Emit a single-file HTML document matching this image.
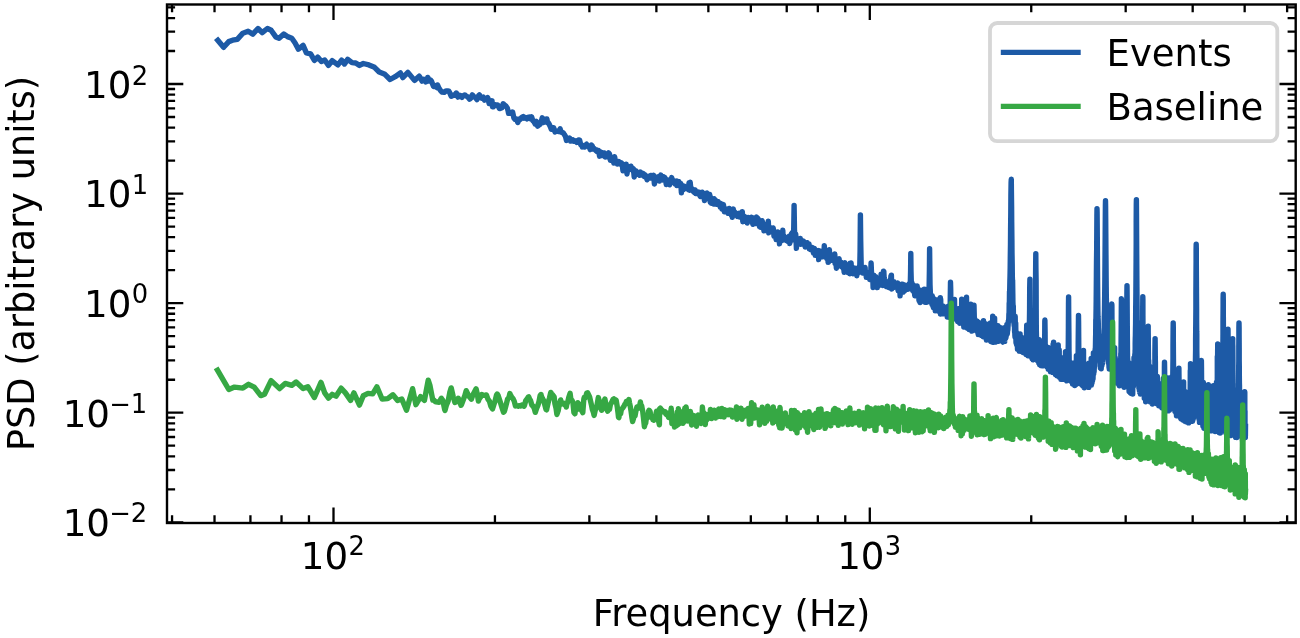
<!DOCTYPE html>
<html><head><meta charset="utf-8"><style>
html,body{margin:0;padding:0;background:#fff;}
svg{display:block;}
text{font-family:'DejaVu Sans', 'Liberation Sans', sans-serif;fill:#000;}
</style></head><body>
<svg width="1300" height="638" viewBox="0 0 1300 638">
<rect width="1300" height="638" fill="#fff"/>
<defs><clipPath id="ax"><rect x="167.0" y="4.5" width="1128.7" height="518.5"/></clipPath></defs>
<g clip-path="url(#ax)" fill="none" stroke-linejoin="round" stroke-linecap="square" stroke-width="5.4">
<path stroke="#1d5aa6" d="M217.8 40.3L223.6 47.3 228.8 41.6 232.6 40.2 237.3 39.3 242.9 33.2 248.1 31.3 252.8 34.1 258.0 28.5 262.2 32.7 267.4 28.5 271.1 30.3 275.8 36.9 279.1 38.3 283.8 34.1 288.1 36.9 291.8 38.3 295.1 43.0 298.4 49.2 303.1 45.4 306.4 52.9 310.6 53.9 314.4 60.4 317.7 57.1 321.4 61.4 324.7 60.0 328.5 65.4 332.2 60.7 337.9 64.9 341.6 60.2 344.5 64.0 347.7 59.3 352.0 62.6 355.7 63.0 359.5 65.4 363.3 63.5 368.9 64.9 374.5 67.3 379.2 72.0 384.9 74.3 390.1 79.5 395.2 76.7 400.4 72.9 402.8 77.6 407.9 72.4 414.5 80.4 419.2 76.2 420.0 77.3 422.0 81.1 423.0 80.4 423.9 79.3 425.8 81.9 426.7 81.4 427.7 77.4 429.6 80.9 430.5 80.0 431.5 81.2 433.3 85.9 433.8 86.5 435.2 85.8 437.0 87.6 437.5 85.0 438.8 87.8 440.6 90.7 442.2 92.1 444.2 92.4 446.0 90.9 447.7 91.0 448.8 91.2 449.4 92.0 451.2 96.3 452.9 95.3 454.6 95.2 456.3 93.0 457.9 97.1 459.6 95.3 461.2 95.9 462.0 97.3 462.9 95.9 464.8 94.9 466.1 96.0 467.7 96.9 469.5 99.2 470.9 97.9 472.3 94.9 474.0 96.8 475.6 97.8 477.0 99.6 478.6 95.7 479.4 94.9 480.2 96.6 481.7 98.3 483.2 97.2 484.5 100.1 486.1 98.9 487.6 97.5 488.3 99.2 489.1 103.5 490.5 103.1 492.0 100.8 492.5 106.7 493.4 106.8 494.8 104.6 495.8 104.8 496.3 105.0 497.7 104.9 499.1 107.9 499.6 108.6 500.5 108.4 501.8 107.8 503.2 103.7 504.8 105.3 505.9 106.0 507.3 108.0 508.1 110.9 508.6 113.4 510.0 113.2 511.3 113.2 511.8 113.3 512.6 112.0 513.9 118.0 515.1 119.4 516.5 119.1 517.8 122.4 519.3 118.9 520.4 119.2 521.7 117.3 523.1 116.6 524.2 118.2 525.4 117.5 526.9 118.9 527.9 117.4 529.2 117.0 530.4 118.6 531.6 116.9 532.8 120.6 533.5 121.3 534.0 121.5 535.2 124.0 536.4 121.4 537.6 126.2 539.1 125.0 539.9 124.5 541.1 122.2 542.3 117.8 542.9 121.3 543.4 122.4 544.6 122.0 545.7 119.1 546.9 118.9 547.6 122.7 548.0 122.3 549.1 124.0 550.3 126.6 551.3 129.2 552.5 127.8 553.6 127.7 555.0 132.0 555.8 131.3 556.9 131.4 558.0 130.9 558.8 131.5 560.1 128.8 561.2 132.3 562.3 132.3 563.3 132.8 564.5 134.8 565.4 136.2 566.5 140.5 567.3 139.5 568.6 139.3 569.6 138.1 570.6 141.1 572.0 140.0 572.7 139.8 573.7 141.3 574.7 141.3 575.7 140.8 576.7 142.4 577.6 141.9 578.7 140.0 579.7 140.2 580.7 144.8 581.7 144.9 582.3 147.0 582.7 145.7 583.6 146.9 584.6 147.1 585.6 145.1 586.6 144.2 587.5 145.5 588.4 146.7 589.4 147.5 590.3 149.6 590.8 146.1 591.3 145.0 592.2 145.9 593.1 148.9 594.1 148.5 595.0 149.6 595.9 150.5 596.4 149.8 596.8 151.5 597.8 151.2 598.7 150.7 599.6 156.2 600.5 151.9 601.1 153.1 601.5 153.4 602.4 152.9 603.3 155.6 604.2 152.9 605.1 157.0 606.0 156.9 606.8 156.6 607.7 154.9 608.6 152.9 609.5 154.0 610.3 160.2 611.2 159.3 612.1 159.8 612.9 158.0 613.8 163.1 614.6 156.7 615.5 161.6 616.3 161.9 617.2 164.0 618.0 163.9 618.8 161.6 619.7 162.4 620.5 164.1 621.3 162.8 622.1 163.7 623.0 170.9 623.8 165.8 624.6 169.3 625.4 170.7 626.2 164.2 627.0 174.0 627.8 168.2 628.6 166.6 629.4 167.7 630.2 169.2 631.0 166.2 631.8 168.8 632.6 170.4 633.4 168.6 634.2 177.1 635.0 172.5 635.7 170.8 636.5 171.8 637.3 173.8 638.1 174.4 638.8 173.6 639.6 175.3 640.4 172.1 641.1 173.0 641.9 172.9 642.6 175.1 643.4 173.6 644.1 176.4 644.9 174.6 645.6 177.2 646.4 177.3 647.1 179.8 647.8 176.4 648.6 177.7 649.3 176.3 650.0 178.0 650.8 175.4 651.5 175.9 652.2 178.1 653.0 176.4 653.7 175.4 654.4 184.0 655.1 179.5 655.8 179.4 656.5 179.5 657.2 177.3 657.9 176.9 658.7 176.7 659.4 181.0 660.1 178.1 660.8 175.1 661.5 177.1 662.1 178.3 662.8 179.9 663.5 176.7 664.2 179.6 664.9 177.6 665.6 180.4 666.3 184.6 667.0 182.0 667.6 179.9 668.3 182.2 669.0 182.3 669.7 184.8 670.3 179.8 671.0 180.7 671.7 177.6 672.3 180.0 673.0 180.1 673.6 182.5 674.3 182.4 675.0 183.9 675.6 182.5 676.3 181.0 676.9 185.6 677.6 182.5 678.2 181.5 678.9 181.7 679.5 185.1 680.2 185.6 680.8 183.6 681.4 192.9 682.1 185.7 682.7 186.3 683.3 189.7 684.0 186.1 684.6 186.5 685.2 188.5 685.9 187.5 686.5 186.8 687.1 187.3 687.7 186.7 688.4 189.7 689.0 183.0 689.6 190.2 690.2 182.3 690.8 188.8 691.4 189.9 692.0 188.7 692.6 189.6 693.3 191.4 693.9 189.9 694.5 192.6 695.1 189.9 695.7 193.5 696.3 191.8 696.9 193.3 697.5 191.8 698.1 193.6 698.7 192.1 699.2 192.1 699.8 195.5 700.4 196.4 701.0 195.8 701.6 194.4 702.2 192.2 702.8 195.8 703.3 195.8 703.9 196.6 704.5 200.6 705.1 195.7 705.7 197.8 706.2 193.5 706.8 193.1 707.4 198.6 708.0 196.2 708.5 197.3 709.1 198.5 709.7 194.5 710.2 202.2 710.8 197.5 711.3 203.3 711.9 202.2 712.5 202.2 713.0 203.0 713.6 203.8 714.1 198.7 714.7 199.4 715.2 204.1 715.8 200.5 716.3 202.6 716.9 204.2 717.4 203.4 718.0 201.6 718.5 202.2 719.1 203.9 719.6 203.9 720.2 207.1 720.7 203.4 721.2 206.3 721.8 209.0 722.3 205.1 722.8 207.2 723.4 204.6 723.9 208.6 724.4 211.8 725.0 209.1 725.5 210.4 726.0 209.5 726.6 209.2 727.1 209.4 727.6 211.8 728.1 213.3 728.6 212.0 729.2 208.4 729.7 210.1 730.2 212.0 730.7 210.0 731.2 215.0 731.8 213.6 732.3 217.3 732.8 210.5 733.3 209.0 733.8 212.8 734.3 213.4 734.8 212.1 735.3 212.6 735.8 213.4 736.3 214.5 736.8 215.4 737.3 216.4 737.8 215.8 738.3 214.0 738.8 215.5 739.3 213.2 739.8 217.1 740.3 217.0 740.8 216.4 741.3 217.2 741.8 217.4 742.3 211.7 742.8 221.7 743.3 217.3 743.8 216.0 744.3 219.5 744.8 216.6 745.2 221.2 745.7 218.9 746.2 219.9 746.7 218.4 747.2 223.0 747.7 221.0 748.1 217.5 748.6 218.9 749.1 219.6 749.6 220.6 750.0 219.4 750.5 219.1 751.0 217.5 751.5 218.4 751.9 217.4 752.4 222.3 752.9 224.3 753.4 222.1 753.8 220.0 754.3 219.4 754.8 217.9 755.2 218.0 755.7 223.6 756.1 219.0 756.6 217.1 757.1 218.8 757.5 221.5 758.0 218.5 758.5 221.5 758.9 221.3 759.4 226.6 759.8 225.3 760.3 221.1 760.7 227.2 761.2 221.4 761.6 224.9 762.1 220.7 762.5 222.0 763.0 223.2 763.4 224.2 763.9 230.8 764.3 225.9 764.8 225.9 765.2 224.5 765.7 230.5 766.1 227.8 766.6 229.2 767.0 226.8 767.4 229.9 767.9 230.2 768.3 221.2 768.8 232.8 769.2 230.8 769.6 228.4 770.1 227.6 770.5 231.4 771.0 230.5 771.4 231.4 771.8 230.9 772.3 231.4 772.7 229.5 773.1 227.9 773.5 229.9 774.0 236.2 774.4 233.3 774.8 233.4 775.3 236.2 775.7 233.4 776.1 239.5 776.5 234.7 777.0 235.3 777.4 235.0 777.8 231.9 778.2 238.0 778.6 240.1 779.1 235.4 779.5 243.9 779.9 239.0 780.3 241.4 780.7 237.2 781.2 236.6 781.6 235.4 782.0 240.5 782.4 235.4 782.8 230.3 783.2 239.6 783.6 235.4 784.0 236.1 784.5 239.7 784.9 236.9 785.3 237.9 785.7 238.9 786.1 240.3 786.5 240.6 786.9 238.5 787.3 240.1 787.7 239.4 788.1 241.4 788.5 237.5 788.9 241.0 789.3 236.1 789.7 243.6 790.1 241.5 790.5 236.6 790.9 240.3 791.3 233.9 791.7 240.3 792.1 232.6 792.5 238.3 792.9 235.6 793.3 237.6 793.7 230.5 794.1 205.4 794.5 231.0 794.9 235.2 795.3 233.9 795.7 234.0 796.1 241.0 796.4 248.4 796.8 241.6 797.2 244.0 797.6 243.3 798.0 240.2 798.4 241.3 798.8 239.0 799.2 242.1 799.5 243.2 799.9 240.8 800.3 238.4 800.7 244.3 801.1 242.8 801.5 240.2 801.8 241.9 802.2 243.5 802.6 243.2 803.0 241.8 803.4 241.1 803.7 244.0 804.1 244.1 804.5 243.1 804.9 243.6 805.2 247.0 805.6 242.6 806.0 245.2 806.4 246.7 806.7 244.0 807.1 242.7 807.5 245.7 807.9 246.0 808.2 245.5 808.6 246.8 809.0 244.0 809.3 248.8 809.7 246.5 810.1 247.9 810.4 249.5 810.8 249.1 811.2 249.0 811.5 247.9 811.9 247.7 812.3 247.5 812.6 250.1 813.0 249.3 813.4 253.0 813.7 250.3 814.1 252.5 814.4 248.4 814.8 249.5 815.2 255.2 815.5 252.1 815.9 252.7 816.2 250.5 816.6 251.3 816.9 252.5 817.3 251.9 817.7 255.5 818.0 251.5 818.4 250.6 818.7 259.6 819.1 252.5 819.4 250.8 819.8 254.2 820.1 255.7 820.5 253.7 820.8 253.6 821.2 251.4 821.5 256.7 821.9 255.8 822.2 253.8 822.6 256.9 822.9 256.3 823.3 254.2 823.6 255.4 824.0 252.2 824.3 245.7 824.7 253.1 825.0 255.5 825.4 257.1 825.7 255.4 826.0 254.3 826.4 255.3 826.7 258.5 827.1 255.2 827.4 256.0 827.8 256.2 828.1 262.4 828.4 255.1 828.8 261.2 829.1 261.3 829.4 249.8 829.8 260.5 830.1 258.2 830.5 260.0 830.8 255.3 831.1 259.9 831.5 257.9 831.8 258.3 832.1 260.2 832.5 255.2 832.8 260.4 833.1 258.6 833.5 256.0 833.8 258.7 834.1 257.3 834.5 261.0 834.8 254.0 835.1 263.3 835.5 261.8 835.8 259.9 836.1 264.4 836.4 268.2 836.8 266.0 837.1 263.9 837.4 259.3 837.8 263.1 838.1 263.3 838.4 264.8 838.7 265.3 839.1 258.6 839.4 263.3 839.7 262.6 840.0 263.7 840.3 266.1 840.7 264.6 841.0 262.1 841.3 266.5 841.6 266.7 842.0 263.4 842.3 267.1 842.6 263.9 842.9 266.8 843.2 268.3 843.5 263.6 843.9 269.9 844.2 272.3 844.5 266.6 844.8 262.7 845.1 269.4 845.5 268.9 845.8 270.4 846.1 269.8 846.4 268.6 846.7 265.3 847.0 269.1 847.3 266.8 847.7 270.9 848.0 272.4 848.3 266.6 848.6 270.9 848.9 266.1 849.2 271.1 849.5 270.5 849.8 273.8 850.1 263.3 850.4 267.2 850.8 266.3 851.1 262.9 851.4 269.5 851.7 270.2 852.0 270.5 852.3 269.6 852.6 271.0 852.9 273.8 853.2 271.6 853.5 271.4 853.8 273.3 854.1 267.9 854.4 273.5 854.7 270.6 855.0 268.3 855.3 268.9 855.6 272.3 855.9 268.8 856.2 272.9 856.5 272.5 856.8 275.8 857.1 272.8 857.4 273.2 857.7 271.8 858.0 272.9 858.3 267.7 858.6 270.5 858.9 270.0 859.2 272.4 859.5 266.1 859.8 265.4 860.1 250.5 860.4 214.9 860.7 240.7 861.0 256.8 861.3 270.1 861.6 268.7 861.9 269.3 862.2 270.8 862.5 271.0 862.8 273.0 863.1 272.7 863.4 272.4 863.7 271.2 864.0 271.4 864.2 271.8 864.5 272.5 864.8 270.0 865.1 267.4 865.4 273.2 865.7 272.5 866.0 271.7 866.3 277.3 866.6 273.5 866.8 272.1 867.1 275.8 867.4 275.0 867.7 275.7 868.0 273.3 868.3 273.6 868.6 274.7 868.9 274.0 869.1 276.7 869.4 276.6 869.7 279.6 870.0 274.5 870.3 279.1 870.6 275.4 870.8 271.1 871.1 262.9 871.4 270.6 871.7 275.5 872.0 279.0 872.3 279.1 872.5 277.1 872.8 277.9 873.1 287.5 873.4 278.4 873.7 277.1 873.9 275.1 874.2 277.7 874.5 279.1 874.8 281.4 875.1 279.5 875.3 276.4 875.6 285.8 875.9 276.8 876.2 281.6 876.4 278.3 876.7 279.3 877.0 278.0 877.3 287.6 877.5 282.5 877.8 281.6 878.1 282.4 878.4 280.5 878.6 283.1 878.9 279.9 879.2 284.6 879.5 285.2 879.7 282.4 880.0 281.0 880.3 281.4 880.5 282.6 880.8 285.0 881.1 274.2 881.4 282.3 881.6 282.5 881.9 283.4 882.2 280.1 882.4 285.1 882.7 285.4 883.0 281.4 883.2 279.2 883.5 271.1 883.8 271.2 884.1 277.3 884.3 279.5 884.6 279.8 884.9 282.6 885.1 282.7 885.4 281.2 885.6 285.5 885.9 286.2 886.2 286.4 886.4 282.9 886.7 282.2 887.0 284.2 887.2 282.2 887.5 283.7 887.8 283.5 888.0 285.4 888.3 283.8 888.6 287.5 888.8 283.2 889.1 284.0 889.3 282.9 889.6 283.7 889.9 280.2 890.1 285.6 890.4 282.4 890.6 282.9 890.9 276.3 891.2 285.4 891.4 275.3 891.7 289.0 891.9 283.3 892.2 285.1 892.5 285.3 892.7 282.4 893.0 284.7 893.2 287.1 893.5 285.3 893.7 287.6 894.0 281.8 894.3 285.6 894.5 286.9 894.8 284.1 895.0 284.8 895.3 285.8 895.5 284.9 895.8 283.3 896.0 283.5 896.3 284.7 896.5 284.0 896.8 285.8 897.1 286.6 897.3 287.4 897.6 282.9 897.8 288.2 898.1 290.7 898.3 283.6 898.6 286.4 898.8 287.3 899.1 287.5 899.3 288.9 899.6 285.1 899.8 289.5 900.1 295.9 900.3 288.1 900.6 286.1 900.8 286.6 901.1 286.3 901.3 288.4 901.6 284.3 901.8 288.2 902.1 288.2 902.3 290.7 902.6 290.0 902.8 284.2 903.0 291.7 903.3 292.0 903.5 290.8 903.8 289.3 904.0 285.8 904.3 285.8 904.5 291.0 904.8 287.0 905.0 286.0 905.3 289.5 905.5 285.1 905.7 287.0 906.0 285.8 906.2 288.0 906.5 288.0 906.7 285.6 907.0 287.5 907.2 288.3 907.4 286.0 907.7 289.4 907.9 287.4 908.2 286.0 908.4 285.9 908.6 285.1 908.9 285.7 909.1 283.9 909.4 286.9 909.6 286.6 909.8 288.0 910.1 286.0 910.3 284.2 910.6 270.7 910.8 253.5 911.0 271.2 911.3 282.3 911.5 283.7 911.8 282.3 912.0 284.3 912.2 288.1 912.5 284.9 912.7 290.4 912.9 289.3 913.2 289.8 913.4 285.0 913.6 289.2 913.9 289.9 914.1 292.6 914.4 290.0 914.6 293.7 914.8 295.8 915.1 291.9 915.3 288.0 915.5 292.9 915.8 293.0 916.0 294.7 916.2 294.1 916.5 290.6 916.7 293.8 916.9 296.1 917.2 286.0 917.4 290.8 917.6 295.2 917.8 292.5 918.1 295.7 918.3 294.0 918.5 295.7 918.8 296.9 919.0 300.5 919.2 293.7 919.5 294.8 919.7 294.8 919.9 294.0 920.1 302.5 920.4 290.2 920.6 300.6 920.8 294.1 921.1 300.1 921.3 295.1 921.5 294.9 921.7 292.6 922.0 294.2 922.2 294.8 922.4 292.4 922.7 296.9 922.9 297.5 923.1 297.4 923.3 294.4 923.6 294.1 923.8 297.9 924.0 298.9 924.2 289.2 924.5 295.3 924.7 292.2 924.9 295.1 925.1 302.2 925.4 300.4 925.6 289.4 925.8 297.0 926.0 298.9 926.3 295.9 926.5 298.8 926.7 295.0 926.9 302.2 927.1 296.4 927.4 296.4 927.6 300.2 927.8 297.5 928.0 296.5 928.3 298.6 928.5 296.5 928.7 294.2 928.9 291.5 929.1 289.0 929.4 270.6 929.6 248.8 929.8 268.0 930.0 284.1 930.2 289.2 930.5 295.8 930.7 299.0 930.9 301.0 931.1 300.5 931.3 301.9 931.5 298.9 931.8 304.1 932.0 301.9 932.2 295.6 932.4 303.0 932.6 296.6 932.8 305.6 933.0 300.0 933.2 305.9 933.4 307.6 933.7 304.7 933.9 304.5 934.1 302.2 934.3 307.1 934.5 299.3 934.7 308.5 935.0 308.0 935.2 310.8 935.4 307.1 935.6 308.8 935.8 307.0 936.0 308.1 936.2 306.1 936.5 306.1 936.7 307.3 936.9 307.9 937.1 307.3 937.3 305.8 937.5 303.3 937.7 302.3 937.9 311.0 938.2 299.7 938.4 308.9 938.6 304.5 938.8 308.4 939.0 311.1 939.2 308.4 939.4 309.9 939.6 308.6 939.9 312.2 940.1 311.7 940.3 297.6 940.5 314.0 940.7 299.5 940.9 312.4 941.1 309.9 941.3 306.8 941.5 312.0 941.7 313.3 941.9 310.6 942.2 308.9 942.4 312.0 942.6 311.5 942.8 309.6 943.0 306.0 943.2 309.8 943.4 309.0 943.6 313.8 943.8 312.5 944.0 310.8 944.2 306.6 944.4 312.8 944.6 311.6 944.8 312.1 945.1 308.2 945.3 314.1 945.5 314.2 945.7 309.2 945.9 313.8 946.1 312.0 946.3 312.9 946.5 311.3 946.7 313.5 946.9 310.4 947.1 312.1 947.3 317.0 947.5 315.1 947.7 312.5 947.9 310.3 948.1 316.0 948.3 306.3 948.5 309.6 948.7 314.7 948.9 315.3 949.1 317.4 949.3 314.4 949.5 316.2 949.7 315.6 949.9 307.4 950.1 311.3 950.3 296.0 950.5 282.2 950.7 289.4 950.9 306.6 951.1 302.8 951.3 315.7 951.5 311.6 951.7 314.9 951.9 315.2 952.1 315.0 952.3 317.5 952.5 313.5 952.7 315.5 952.9 315.4 953.1 316.2 953.3 316.5 953.5 318.1 953.7 316.0 953.9 317.4 954.1 317.7 954.3 317.4 954.5 299.5 954.7 315.5 954.9 318.3 955.1 315.2 955.3 315.1 955.5 310.9 955.7 315.9 955.9 314.7 956.1 312.2 956.3 319.4 956.5 310.6 956.7 313.5 956.9 319.8 957.1 315.7 957.3 320.2 957.5 315.1 957.7 321.5 957.9 320.6 958.1 318.6 958.3 313.1 958.5 308.6 958.6 319.3 958.8 321.0 959.0 315.3 959.2 314.0 959.4 309.5 959.6 312.1 959.8 323.3 960.0 321.3 960.2 315.2 960.4 317.8 960.6 321.6 960.8 318.1 961.0 320.2 961.2 320.3 961.3 321.0 961.5 317.3 961.7 299.1 961.9 319.5 962.1 320.9 962.3 312.1 962.5 313.2 962.7 323.5 962.9 319.7 963.1 318.6 963.3 319.4 963.4 321.6 963.6 321.9 963.8 327.0 964.0 325.1 964.2 325.2 964.4 325.7 964.6 318.5 964.8 315.0 965.0 323.8 965.2 323.2 965.3 327.1 965.5 323.3 965.7 304.7 965.9 321.9 966.1 310.6 966.3 303.2 966.5 297.2 966.7 314.8 966.8 321.9 967.0 316.5 967.2 320.7 967.4 328.3 967.6 326.2 967.8 325.5 968.0 326.2 968.2 325.8 968.3 326.3 968.5 326.9 968.7 328.9 968.9 326.4 969.1 329.5 969.3 327.8 969.5 328.1 969.6 325.7 969.8 325.0 970.0 328.7 970.2 328.3 970.4 324.8 970.6 327.6 970.8 304.1 970.9 327.3 971.1 325.3 971.3 330.1 971.5 328.6 971.7 313.4 971.9 331.1 972.0 318.8 972.2 324.5 972.4 324.9 972.6 327.5 972.8 330.5 973.0 324.0 973.1 327.3 973.3 311.6 973.5 320.9 973.7 326.4 973.9 319.3 974.0 305.2 974.2 313.4 974.4 322.4 974.6 322.6 974.8 321.9 975.0 327.7 975.1 325.6 975.3 319.8 975.5 328.2 975.7 329.7 975.9 328.9 976.0 328.1 976.2 325.0 976.4 327.0 976.6 328.0 976.8 328.1 976.9 331.1 977.1 321.2 977.3 330.2 977.5 331.5 977.7 331.3 977.8 328.1 978.0 331.4 978.2 334.5 978.4 331.2 978.5 334.4 978.7 333.8 978.9 333.8 979.1 332.0 979.3 331.6 979.4 329.2 979.6 329.4 979.8 322.9 980.0 333.0 980.1 333.6 980.3 324.9 980.5 332.3 980.7 325.4 980.9 327.2 981.0 331.1 981.2 329.5 981.4 335.4 981.6 333.9 981.7 325.5 981.9 334.2 982.1 324.8 982.3 325.2 982.4 331.4 982.6 326.9 982.8 327.8 983.0 333.8 983.1 325.2 983.3 336.8 983.5 320.8 983.7 335.8 983.8 329.8 984.0 334.0 984.2 334.6 984.4 332.9 984.5 334.7 984.7 334.8 984.9 336.4 985.0 328.9 985.2 327.1 985.4 336.2 985.6 325.6 985.7 323.7 985.9 332.4 986.1 333.0 986.3 338.6 986.4 340.0 986.6 330.4 986.8 339.8 986.9 339.0 987.1 338.4 987.3 334.4 987.5 336.7 987.6 338.4 987.8 339.9 988.0 338.9 988.1 336.5 988.3 339.9 988.5 337.5 988.7 326.7 988.8 325.4 989.0 333.8 989.2 329.6 989.3 338.3 989.5 339.4 989.7 332.4 989.9 337.9 990.0 337.3 990.2 337.6 990.4 322.9 990.5 335.9 990.7 336.5 990.9 341.4 991.0 335.1 991.2 327.9 991.4 338.8 991.5 340.4 991.7 339.7 991.9 342.0 992.0 341.4 992.2 338.1 992.4 333.0 992.6 339.1 992.7 316.1 992.9 342.3 993.1 335.9 993.2 337.5 993.4 340.2 993.6 340.0 993.7 340.9 993.9 340.2 994.1 336.5 994.2 325.5 994.4 342.1 994.6 318.2 994.7 334.8 994.9 338.8 995.1 337.5 995.2 341.6 995.4 338.5 995.6 333.6 995.7 337.0 995.9 339.7 996.1 342.0 996.2 339.4 996.4 340.2 996.5 339.5 996.7 334.4 996.9 335.5 997.0 341.4 997.2 327.7 997.4 339.7 997.5 340.8 997.7 339.8 997.9 325.7 998.0 337.3 998.2 335.5 998.4 339.8 998.5 332.1 998.7 336.5 998.8 341.3 999.0 338.5 999.2 338.7 999.3 338.7 999.5 332.2 999.7 340.6 999.8 336.5 1000.0 335.7 1000.1 336.9 1000.3 327.4 1000.5 329.2 1000.6 336.9 1000.8 340.0 1001.0 339.0 1001.1 336.2 1001.3 339.9 1001.4 341.1 1001.6 340.8 1001.8 338.9 1001.9 337.1 1002.1 338.9 1002.3 341.4 1002.4 340.8 1002.6 339.9 1002.7 341.6 1002.9 342.1 1003.1 336.3 1003.2 338.7 1003.4 339.1 1003.5 336.1 1003.7 335.6 1003.9 338.0 1004.0 336.7 1004.2 336.8 1004.3 327.7 1004.5 334.7 1004.7 341.4 1004.8 335.5 1005.0 336.8 1005.1 332.0 1005.3 336.8 1005.4 333.9 1005.6 331.2 1005.8 333.3 1005.9 337.9 1006.1 336.0 1006.2 326.6 1006.4 335.7 1006.6 334.7 1006.7 334.7 1006.9 324.5 1007.0 330.1 1007.2 324.2 1007.3 334.1 1007.5 331.5 1007.7 329.6 1007.8 330.4 1008.0 326.6 1008.1 325.7 1008.3 321.1 1008.4 321.9 1008.6 321.2 1008.8 318.5 1008.9 314.1 1009.1 312.5 1009.2 303.1 1009.4 302.3 1009.5 291.8 1009.7 290.8 1009.9 280.4 1010.0 277.2 1010.2 267.1 1010.3 257.5 1010.5 243.7 1010.6 229.0 1010.8 212.6 1010.9 195.4 1011.1 182.3 1011.3 179.2 1011.4 190.5 1011.6 206.7 1011.7 222.1 1011.9 239.2 1012.0 253.2 1012.2 264.1 1012.3 275.0 1012.5 282.4 1012.6 280.0 1012.8 293.5 1012.9 302.1 1013.1 306.6 1013.3 305.9 1013.4 313.2 1013.6 317.2 1013.7 320.9 1013.9 323.0 1014.0 323.3 1014.2 325.8 1014.3 326.0 1014.5 326.7 1014.6 331.9 1014.8 330.9 1014.9 335.6 1015.1 337.5 1015.2 316.5 1015.4 336.4 1015.5 331.1 1015.7 322.9 1015.9 336.6 1016.0 342.4 1016.2 331.9 1016.3 341.3 1016.5 344.5 1016.6 337.7 1016.8 339.7 1016.9 343.8 1017.1 344.1 1017.2 342.2 1017.4 344.4 1017.5 349.2 1017.7 333.6 1017.8 349.1 1018.0 345.7 1018.1 348.7 1018.3 341.5 1018.4 341.3 1018.6 338.1 1018.7 347.3 1018.9 337.0 1019.0 347.1 1019.2 346.0 1019.3 351.1 1019.5 348.9 1019.6 347.1 1019.8 347.7 1019.9 349.7 1020.1 333.9 1020.2 348.6 1020.4 349.2 1020.5 349.6 1020.7 350.9 1020.8 344.3 1021.0 351.4 1021.1 347.7 1021.3 351.2 1021.4 349.7 1021.6 337.3 1021.7 339.0 1021.9 350.3 1022.0 351.1 1022.1 349.2 1022.3 345.8 1022.4 350.2 1022.6 343.8 1022.7 350.6 1022.9 352.6 1023.0 352.4 1023.2 348.8 1023.3 346.9 1023.5 350.5 1023.6 351.5 1023.8 348.2 1023.9 348.7 1024.1 350.2 1024.2 345.7 1024.4 349.7 1024.5 344.9 1024.6 349.9 1024.8 352.1 1024.9 349.4 1025.1 344.5 1025.2 345.2 1025.4 353.4 1025.5 351.9 1025.7 349.7 1025.8 349.5 1026.0 347.9 1026.1 354.4 1026.2 351.7 1026.4 351.0 1026.5 336.9 1026.7 325.3 1026.8 352.0 1027.0 347.1 1027.1 340.0 1027.3 353.7 1027.4 347.9 1027.6 346.6 1027.7 345.5 1027.8 348.4 1028.0 355.8 1028.1 347.4 1028.3 347.2 1028.4 343.2 1028.6 351.1 1028.7 346.7 1028.8 350.0 1029.0 331.7 1029.1 341.3 1029.3 331.0 1029.4 323.3 1029.6 309.1 1029.7 288.0 1029.9 279.2 1030.0 304.7 1030.1 317.0 1030.3 322.8 1030.4 338.3 1030.6 337.2 1030.7 343.9 1030.9 350.8 1031.0 355.3 1031.1 354.1 1031.3 356.8 1031.4 350.8 1031.6 343.7 1031.7 337.7 1031.8 356.9 1032.0 358.7 1032.1 354.0 1032.3 357.9 1032.4 338.5 1032.6 354.6 1032.7 348.1 1032.8 356.4 1033.0 359.9 1033.1 359.4 1033.3 359.7 1033.4 358.5 1033.5 351.7 1033.7 357.9 1033.8 354.0 1034.0 357.1 1034.1 354.3 1034.2 345.5 1034.4 354.3 1034.5 353.9 1034.7 346.7 1034.8 346.7 1034.9 346.1 1035.1 339.6 1035.2 327.0 1035.4 319.6 1035.5 298.8 1035.6 274.3 1035.8 253.7 1035.9 267.9 1036.1 280.1 1036.2 309.2 1036.3 329.8 1036.5 337.0 1036.6 342.0 1036.8 345.5 1036.9 345.7 1037.0 353.0 1037.2 357.2 1037.3 352.3 1037.4 350.8 1037.6 358.5 1037.7 360.8 1037.9 360.1 1038.0 354.4 1038.1 358.3 1038.3 358.0 1038.4 347.5 1038.6 343.0 1038.7 357.5 1038.8 363.0 1039.0 361.8 1039.1 356.3 1039.2 339.7 1039.4 362.7 1039.5 357.4 1039.7 364.6 1039.8 346.0 1039.9 360.2 1040.1 360.9 1040.2 358.4 1040.3 352.1 1040.5 357.0 1040.6 356.5 1040.7 358.2 1040.9 356.4 1041.0 360.7 1041.2 365.6 1041.3 348.4 1041.4 353.1 1041.6 363.6 1041.7 359.8 1041.8 359.3 1042.0 365.7 1042.1 359.3 1042.2 362.9 1042.4 351.5 1042.5 356.1 1042.7 342.2 1042.8 363.2 1042.9 357.6 1043.1 358.1 1043.2 363.2 1043.3 365.8 1043.5 345.5 1043.6 340.6 1043.7 363.9 1043.9 345.9 1044.0 357.0 1044.1 361.5 1044.3 354.7 1044.4 349.1 1044.5 350.7 1044.7 342.1 1044.8 321.9 1044.9 320.0 1045.1 332.1 1045.2 350.8 1045.3 353.3 1045.5 360.0 1045.6 351.1 1045.7 362.7 1045.9 357.6 1046.0 356.9 1046.1 363.5 1046.3 362.4 1046.4 358.6 1046.5 364.9 1046.7 363.9 1046.8 366.3 1046.9 357.0 1047.1 367.0 1047.2 358.0 1047.3 356.2 1047.5 367.0 1047.6 362.1 1047.7 364.8 1047.9 366.8 1048.0 365.4 1048.1 347.4 1048.3 369.2 1048.4 362.5 1048.5 366.4 1048.7 350.2 1048.8 351.6 1048.9 368.2 1049.1 365.8 1049.2 363.3 1049.3 360.8 1049.5 359.2 1049.6 369.4 1049.7 362.8 1049.8 362.1 1050.0 363.6 1050.1 361.8 1050.2 365.1 1050.4 367.3 1050.5 371.6 1050.6 368.6 1050.8 369.9 1050.9 369.1 1051.0 367.0 1051.2 361.7 1051.3 370.8 1051.4 367.2 1051.5 358.6 1051.7 369.6 1051.8 369.0 1051.9 366.0 1052.1 369.9 1052.2 371.1 1052.3 370.6 1052.5 359.9 1052.6 372.4 1052.7 366.2 1052.8 368.2 1053.0 369.4 1053.1 344.3 1053.2 370.1 1053.4 363.4 1053.5 370.6 1053.6 342.1 1053.8 369.6 1053.9 372.3 1054.0 370.0 1054.1 367.7 1054.3 372.4 1054.4 366.7 1054.5 372.2 1054.7 368.5 1054.8 371.2 1054.9 366.9 1055.0 361.9 1055.2 372.2 1055.3 371.9 1055.4 374.4 1055.6 370.2 1055.7 374.2 1055.8 371.5 1055.9 370.0 1056.1 357.0 1056.2 365.5 1056.3 374.3 1056.4 373.6 1056.6 373.0 1056.7 373.7 1056.8 370.2 1057.0 375.7 1057.1 367.9 1057.2 351.5 1057.3 358.1 1057.5 364.6 1057.6 374.9 1057.7 371.3 1057.8 367.2 1058.0 355.4 1058.1 371.3 1058.2 344.9 1058.4 365.5 1058.5 374.4 1058.6 363.2 1058.7 376.5 1058.9 375.2 1059.0 373.0 1059.1 373.4 1059.2 350.0 1059.4 376.5 1059.5 377.3 1059.6 374.2 1059.7 377.1 1059.9 375.3 1060.0 369.3 1060.1 375.7 1060.2 363.6 1060.4 366.3 1060.5 373.1 1060.6 367.8 1060.7 375.2 1060.9 379.4 1061.0 371.4 1061.1 372.4 1061.2 371.3 1061.4 359.8 1061.5 368.3 1061.6 357.8 1061.7 370.1 1061.9 376.3 1062.0 371.1 1062.1 374.6 1062.2 377.3 1062.4 375.1 1062.5 367.3 1062.6 379.2 1062.7 369.0 1062.9 377.3 1063.0 367.9 1063.1 379.0 1063.2 375.1 1063.4 378.6 1063.5 375.4 1063.6 372.5 1063.7 373.7 1063.9 379.4 1064.0 378.1 1064.1 378.9 1064.2 369.3 1064.3 368.6 1064.5 379.4 1064.6 369.4 1064.7 379.0 1064.8 378.3 1065.0 374.3 1065.1 365.1 1065.2 374.4 1065.3 374.3 1065.5 351.7 1065.6 377.2 1065.7 378.2 1065.8 377.2 1065.9 362.1 1066.1 374.2 1066.2 375.5 1066.3 378.0 1066.4 373.8 1066.6 372.6 1066.7 377.7 1066.8 380.9 1066.9 376.4 1067.0 373.9 1067.2 368.2 1067.3 366.6 1067.4 370.6 1067.5 370.0 1067.7 364.2 1067.8 371.7 1067.9 366.9 1068.0 354.2 1068.1 355.4 1068.3 343.0 1068.4 327.0 1068.5 303.8 1068.6 296.9 1068.7 314.0 1068.9 333.3 1069.0 350.7 1069.1 354.5 1069.2 363.9 1069.4 368.6 1069.5 369.4 1069.6 369.0 1069.7 370.0 1069.8 374.9 1070.0 372.5 1070.1 374.5 1070.2 362.1 1070.3 365.5 1070.4 365.4 1070.6 377.7 1070.7 375.8 1070.8 379.0 1070.9 371.9 1071.0 379.0 1071.2 370.8 1071.3 372.9 1071.4 380.5 1071.5 379.3 1071.6 382.0 1071.8 382.3 1071.9 369.7 1072.0 369.9 1072.1 377.5 1072.2 371.0 1072.3 381.5 1072.5 374.3 1072.6 383.9 1072.7 364.4 1072.8 372.2 1072.9 373.4 1073.1 381.0 1073.2 372.9 1073.3 363.3 1073.4 377.6 1073.5 377.6 1073.7 383.6 1073.8 383.0 1073.9 370.0 1074.0 370.1 1074.1 376.9 1074.2 380.0 1074.4 363.9 1074.5 376.3 1074.6 382.1 1074.7 385.5 1074.8 372.2 1075.0 385.1 1075.1 379.2 1075.2 373.4 1075.3 368.3 1075.4 378.0 1075.5 381.8 1075.7 379.8 1075.8 374.7 1075.9 384.4 1076.0 373.5 1076.1 375.2 1076.2 381.5 1076.4 355.6 1076.5 375.7 1076.6 365.2 1076.7 381.2 1076.8 383.3 1077.0 382.8 1077.1 381.8 1077.2 382.6 1077.3 360.4 1077.4 378.7 1077.5 375.7 1077.6 376.0 1077.8 368.3 1077.9 372.1 1078.0 369.3 1078.1 358.8 1078.2 343.6 1078.3 333.3 1078.5 315.5 1078.6 322.9 1078.7 336.8 1078.8 352.3 1078.9 361.0 1079.0 370.7 1079.2 358.1 1079.3 374.4 1079.4 376.9 1079.5 368.8 1079.6 370.3 1079.7 376.8 1079.9 369.2 1080.0 378.9 1080.1 383.8 1080.2 383.7 1080.3 381.7 1080.4 365.4 1080.5 381.8 1080.7 384.0 1080.8 361.6 1080.9 381.1 1081.0 383.3 1081.1 378.3 1081.2 372.6 1081.3 376.5 1081.5 381.8 1081.6 376.7 1081.7 383.7 1081.8 381.8 1081.9 380.4 1082.0 371.1 1082.1 385.0 1082.3 370.0 1082.4 361.9 1082.5 378.8 1082.6 385.0 1082.7 379.0 1082.8 379.6 1082.9 386.0 1083.1 385.6 1083.2 381.9 1083.3 379.5 1083.4 386.3 1083.5 350.4 1083.6 383.9 1083.7 383.2 1083.9 386.1 1084.0 381.6 1084.1 379.4 1084.2 384.2 1084.3 387.7 1084.4 377.0 1084.5 365.8 1084.6 371.9 1084.8 386.0 1084.9 384.0 1085.0 383.8 1085.1 385.2 1085.2 384.9 1085.3 385.7 1085.4 369.1 1085.6 367.2 1085.7 382.2 1085.8 384.2 1085.9 370.8 1086.0 381.9 1086.1 379.2 1086.2 375.4 1086.3 384.5 1086.5 376.4 1086.6 385.5 1086.7 382.7 1086.8 384.8 1086.9 375.5 1087.0 384.4 1087.1 386.0 1087.2 379.5 1087.3 386.4 1087.5 379.7 1087.6 381.7 1087.7 385.3 1087.8 373.0 1087.9 377.0 1088.0 385.5 1088.1 376.2 1088.2 382.0 1088.3 385.8 1088.5 386.1 1088.6 384.4 1088.7 387.4 1088.8 363.3 1088.9 366.2 1089.0 382.1 1089.1 382.3 1089.2 375.9 1089.3 379.3 1089.5 381.5 1089.6 384.5 1089.7 381.3 1089.8 383.6 1089.9 381.2 1090.0 382.5 1090.1 378.7 1090.2 372.2 1090.3 378.4 1090.5 383.9 1090.6 378.5 1090.7 383.5 1090.8 374.7 1090.9 377.1 1091.0 371.4 1091.1 375.9 1091.2 358.4 1091.3 365.3 1091.4 385.0 1091.6 381.3 1091.7 377.2 1091.8 378.8 1091.9 380.1 1092.0 383.1 1092.1 380.9 1092.2 381.7 1092.3 373.3 1092.4 381.1 1092.5 380.9 1092.6 378.2 1092.8 364.4 1092.9 375.5 1093.0 379.2 1093.1 375.7 1093.2 364.5 1093.3 373.5 1093.4 353.0 1093.5 363.1 1093.6 362.9 1093.7 373.7 1093.8 361.0 1094.0 371.9 1094.1 371.6 1094.2 369.0 1094.3 367.4 1094.4 362.5 1094.5 366.3 1094.6 361.2 1094.7 363.1 1094.8 359.8 1094.9 354.9 1095.0 353.3 1095.1 350.6 1095.3 348.3 1095.4 348.3 1095.5 343.5 1095.6 337.4 1095.7 334.1 1095.8 319.6 1095.9 322.2 1096.0 314.8 1096.1 308.6 1096.2 299.2 1096.3 287.9 1096.4 274.9 1096.5 262.8 1096.7 247.7 1096.8 231.1 1096.9 216.0 1097.0 208.7 1097.1 212.3 1097.2 224.6 1097.3 240.3 1097.4 255.7 1097.5 270.4 1097.6 283.2 1097.7 293.7 1097.8 303.6 1097.9 311.7 1098.0 317.0 1098.2 320.3 1098.3 323.9 1098.4 334.2 1098.5 338.6 1098.6 342.3 1098.7 346.1 1098.8 345.2 1098.9 335.1 1099.0 354.3 1099.1 355.0 1099.2 358.3 1099.3 355.7 1099.4 357.7 1099.5 353.3 1099.6 356.5 1099.7 358.3 1099.9 343.3 1100.0 358.5 1100.1 358.3 1100.2 366.3 1100.3 365.3 1100.4 367.8 1100.5 365.0 1100.6 365.9 1100.7 366.5 1100.8 367.2 1100.9 364.6 1101.0 367.2 1101.1 351.1 1101.2 368.7 1101.3 363.4 1101.4 366.4 1101.5 363.3 1101.6 360.4 1101.8 366.0 1101.9 364.5 1102.0 353.5 1102.1 357.4 1102.2 364.0 1102.3 351.5 1102.4 352.9 1102.5 352.3 1102.6 362.9 1102.7 350.7 1102.8 360.8 1102.9 351.2 1103.0 355.6 1103.1 353.1 1103.2 347.6 1103.3 348.9 1103.4 347.2 1103.5 342.2 1103.6 341.3 1103.7 338.4 1103.8 335.9 1103.9 334.2 1104.0 330.6 1104.2 327.7 1104.3 317.5 1104.4 313.9 1104.5 310.3 1104.6 302.1 1104.7 294.7 1104.8 286.4 1104.9 275.4 1105.0 262.9 1105.1 249.0 1105.2 233.9 1105.3 218.5 1105.4 205.8 1105.5 200.7 1105.6 206.2 1105.7 219.0 1105.8 234.0 1105.9 249.2 1106.0 261.0 1106.1 275.2 1106.2 286.4 1106.3 295.9 1106.4 300.3 1106.5 309.9 1106.6 314.8 1106.7 320.4 1106.8 317.6 1106.9 328.3 1107.0 328.2 1107.1 338.2 1107.3 339.1 1107.4 345.2 1107.5 341.5 1107.6 349.2 1107.7 349.2 1107.8 351.4 1107.9 349.8 1108.0 339.7 1108.1 353.5 1108.2 359.1 1108.3 356.2 1108.4 360.5 1108.5 362.9 1108.6 363.1 1108.7 358.7 1108.8 364.4 1108.9 350.0 1109.0 367.3 1109.1 365.9 1109.2 361.9 1109.3 368.9 1109.4 367.9 1109.5 366.8 1109.6 369.0 1109.7 363.7 1109.8 366.6 1109.9 367.1 1110.0 361.1 1110.1 364.6 1110.2 358.9 1110.3 360.5 1110.4 364.6 1110.5 368.7 1110.6 365.9 1110.7 360.8 1110.8 363.5 1110.9 361.2 1111.0 364.0 1111.1 362.5 1111.2 360.9 1111.3 355.3 1111.4 345.4 1111.5 336.3 1111.6 324.9 1111.7 309.0 1111.8 304.0 1111.9 305.4 1112.0 330.8 1112.1 343.4 1112.2 353.0 1112.3 343.1 1112.4 362.1 1112.5 365.0 1112.6 367.7 1112.7 359.1 1112.8 362.4 1112.9 359.0 1113.0 363.9 1113.1 372.7 1113.2 374.7 1113.3 373.0 1113.4 374.7 1113.5 369.9 1113.6 376.9 1113.7 376.7 1113.8 379.9 1113.9 380.2 1114.0 376.3 1114.1 375.8 1114.2 368.7 1114.3 375.9 1114.4 374.5 1114.5 377.6 1114.6 347.8 1114.7 371.7 1114.8 377.4 1114.9 379.0 1115.0 375.3 1115.1 381.6 1115.2 357.8 1115.3 381.4 1115.4 374.4 1115.5 377.7 1115.6 373.5 1115.7 360.0 1115.8 378.0 1115.9 382.2 1116.0 378.6 1116.1 379.3 1116.2 376.7 1116.3 368.8 1116.4 373.8 1116.5 376.5 1116.6 375.1 1116.7 378.5 1116.8 381.8 1116.9 381.5 1117.0 368.6 1117.1 378.6 1117.2 383.2 1117.3 375.5 1117.4 376.6 1117.5 378.7 1117.6 383.1 1117.7 370.3 1117.8 374.5 1117.9 381.6 1118.0 375.7 1118.1 371.9 1118.2 384.1 1118.3 372.0 1118.4 381.7 1118.5 379.4 1118.6 377.7 1118.7 367.0 1118.8 379.5 1118.9 382.4 1119.0 377.8 1119.1 382.0 1119.1 380.7 1119.2 369.5 1119.3 375.6 1119.4 385.7 1119.5 375.1 1119.6 374.9 1119.7 381.9 1119.8 376.5 1119.9 380.1 1120.0 374.6 1120.1 377.2 1120.2 381.2 1120.3 364.5 1120.4 374.3 1120.5 372.9 1120.6 363.7 1120.7 366.4 1120.8 353.6 1120.9 357.2 1121.0 351.2 1121.1 339.0 1121.2 327.5 1121.3 311.9 1121.4 298.7 1121.5 300.6 1121.6 321.3 1121.7 336.7 1121.8 349.2 1121.9 357.0 1122.0 365.0 1122.1 359.4 1122.2 369.4 1122.2 369.1 1122.3 374.5 1122.4 358.8 1122.5 369.7 1122.6 338.1 1122.7 376.9 1122.8 372.1 1122.9 382.3 1123.0 383.2 1123.1 381.0 1123.2 370.7 1123.3 353.4 1123.4 364.2 1123.5 377.2 1123.6 369.2 1123.7 383.7 1123.8 369.2 1123.9 382.8 1124.0 378.2 1124.1 387.2 1124.2 357.3 1124.3 358.3 1124.4 386.9 1124.4 382.7 1124.5 383.9 1124.6 382.9 1124.7 383.8 1124.8 377.9 1124.9 366.9 1125.0 376.7 1125.1 375.1 1125.2 382.6 1125.3 378.1 1125.4 382.6 1125.5 381.2 1125.6 383.1 1125.7 371.8 1125.8 381.2 1125.9 377.4 1126.0 377.9 1126.1 376.7 1126.2 353.8 1126.3 363.8 1126.3 365.1 1126.4 357.5 1126.5 348.7 1126.6 335.6 1126.7 329.1 1126.8 311.3 1126.9 293.5 1127.0 285.7 1127.1 296.6 1127.2 312.4 1127.3 330.2 1127.4 341.0 1127.5 353.5 1127.6 362.2 1127.7 358.9 1127.8 369.4 1127.9 371.4 1127.9 370.6 1128.0 378.5 1128.1 380.7 1128.2 385.3 1128.3 370.3 1128.4 380.2 1128.5 387.4 1128.6 362.4 1128.7 377.9 1128.8 382.2 1128.9 379.5 1129.0 388.3 1129.1 391.3 1129.2 384.6 1129.3 386.1 1129.4 390.3 1129.4 380.2 1129.5 383.5 1129.6 390.7 1129.7 379.1 1129.8 385.4 1129.9 390.4 1130.0 363.6 1130.1 387.4 1130.2 392.4 1130.3 392.8 1130.4 388.2 1130.5 384.2 1130.6 390.9 1130.7 384.1 1130.7 391.8 1130.8 383.0 1130.9 386.4 1131.0 379.6 1131.1 381.3 1131.2 377.2 1131.3 393.6 1131.4 392.5 1131.5 387.5 1131.6 381.2 1131.7 386.5 1131.8 373.1 1131.9 384.1 1131.9 392.7 1132.0 391.0 1132.1 381.6 1132.2 388.7 1132.3 386.3 1132.4 393.0 1132.5 391.1 1132.6 379.3 1132.7 394.1 1132.8 381.5 1132.9 383.1 1133.0 386.2 1133.1 383.9 1133.1 374.7 1133.2 379.0 1133.3 380.8 1133.4 386.2 1133.5 379.3 1133.6 378.3 1133.7 385.1 1133.8 365.4 1133.9 378.2 1134.0 357.6 1134.1 379.9 1134.2 375.9 1134.2 381.3 1134.3 368.0 1134.4 374.3 1134.5 372.4 1134.6 367.8 1134.7 369.3 1134.8 354.4 1134.9 363.4 1135.0 358.7 1135.1 350.2 1135.2 354.1 1135.2 343.5 1135.3 337.8 1135.4 335.7 1135.5 328.3 1135.6 323.7 1135.7 308.4 1135.8 301.8 1135.9 291.6 1136.0 277.0 1136.1 261.5 1136.2 242.6 1136.2 221.9 1136.3 204.6 1136.4 199.7 1136.5 213.6 1136.6 233.9 1136.7 253.8 1136.8 270.5 1136.9 286.7 1137.0 299.0 1137.1 310.4 1137.1 320.5 1137.2 320.5 1137.3 335.1 1137.4 331.6 1137.5 344.1 1137.6 350.1 1137.7 355.1 1137.8 359.2 1137.9 361.7 1138.0 367.3 1138.0 371.1 1138.1 365.6 1138.2 373.7 1138.3 375.3 1138.4 366.7 1138.5 376.0 1138.6 373.5 1138.7 378.8 1138.8 383.3 1138.9 378.4 1138.9 388.3 1139.0 388.4 1139.1 381.7 1139.2 386.0 1139.3 383.4 1139.4 390.4 1139.5 388.3 1139.6 352.7 1139.7 390.2 1139.8 387.9 1139.8 392.4 1139.9 386.5 1140.0 389.3 1140.1 391.4 1140.2 391.7 1140.3 392.1 1140.4 394.1 1140.5 392.5 1140.6 392.7 1140.6 391.5 1140.7 393.5 1140.8 389.2 1140.9 391.7 1141.0 393.7 1141.1 388.3 1141.2 386.4 1141.3 392.9 1141.4 381.0 1141.4 392.5 1141.5 389.2 1141.6 382.2 1141.7 384.6 1141.8 388.8 1141.9 386.5 1142.0 378.0 1142.1 377.4 1142.1 373.5 1142.2 370.8 1142.3 360.5 1142.4 355.0 1142.5 342.4 1142.6 324.1 1142.7 311.2 1142.8 296.7 1142.9 299.8 1142.9 313.9 1143.0 330.6 1143.1 344.9 1143.2 354.5 1143.3 358.9 1143.4 364.8 1143.5 375.0 1143.6 371.3 1143.6 372.4 1143.7 374.9 1143.8 382.0 1143.9 385.9 1144.0 393.1 1144.1 393.9 1144.2 390.2 1144.3 397.1 1144.3 398.2 1144.4 392.0 1144.5 394.2 1144.6 398.3 1144.7 398.2 1144.8 384.6 1144.9 389.3 1145.0 394.0 1145.0 396.6 1145.1 380.4 1145.2 392.1 1145.3 394.4 1145.4 395.9 1145.5 399.8 1145.6 395.7 1145.7 388.4 1145.7 401.8 1145.8 390.3 1145.9 393.7 1146.0 397.8 1146.1 397.6 1146.2 393.2 1146.3 399.1 1146.3 398.6 1146.4 392.0 1146.5 396.6 1146.6 386.6 1146.7 399.9 1146.8 388.4 1146.9 386.3 1147.0 395.6 1147.0 391.4 1147.1 390.8 1147.2 373.5 1147.3 391.5 1147.4 388.9 1147.5 390.1 1147.6 378.9 1147.6 385.5 1147.7 377.4 1147.8 362.2 1147.9 359.2 1148.0 353.4 1148.1 340.2 1148.2 326.1 1148.2 330.6 1148.3 340.1 1148.4 351.9 1148.5 364.8 1148.6 375.8 1148.7 360.5 1148.8 383.8 1148.8 388.3 1148.9 390.9 1149.0 391.1 1149.1 380.2 1149.2 392.2 1149.3 397.7 1149.4 378.9 1149.4 397.4 1149.5 398.4 1149.6 393.0 1149.7 366.1 1149.8 397.7 1149.9 394.5 1150.0 401.2 1150.0 398.1 1150.1 394.5 1150.2 399.6 1150.3 401.9 1150.4 399.4 1150.5 399.9 1150.6 397.6 1150.6 388.6 1150.7 396.0 1150.8 389.2 1150.9 397.0 1151.0 402.3 1151.1 395.3 1151.2 398.7 1151.2 386.1 1151.3 381.1 1151.4 387.8 1151.5 396.5 1151.6 397.5 1151.7 400.4 1151.7 398.3 1151.8 387.4 1151.9 398.0 1152.0 402.5 1152.1 399.6 1152.2 398.0 1152.3 401.8 1152.3 396.1 1152.4 404.0 1152.5 400.2 1152.6 396.4 1152.7 397.7 1152.8 401.1 1152.8 396.5 1152.9 396.4 1153.0 397.7 1153.1 381.6 1153.2 394.9 1153.3 401.2 1153.4 402.6 1153.4 400.5 1153.5 396.8 1153.6 401.1 1153.7 395.5 1153.8 399.1 1153.9 392.8 1153.9 391.0 1154.0 399.7 1154.1 395.9 1154.2 394.8 1154.3 396.5 1154.4 392.7 1154.4 392.4 1154.5 381.5 1154.6 387.7 1154.7 383.4 1154.8 377.5 1154.9 364.7 1154.9 354.2 1155.0 345.6 1155.1 338.6 1155.2 345.9 1155.3 359.2 1155.4 362.4 1155.4 377.7 1155.5 386.0 1155.6 386.0 1155.7 392.6 1155.8 382.5 1155.9 394.8 1155.9 397.4 1156.0 398.3 1156.1 392.2 1156.2 400.3 1156.3 396.5 1156.4 396.3 1156.4 399.1 1156.5 397.6 1156.6 397.6 1156.7 399.1 1156.8 397.6 1156.9 398.8 1156.9 403.7 1157.0 398.5 1157.1 396.6 1157.2 388.4 1157.3 376.4 1157.4 383.4 1157.4 398.9 1157.5 396.7 1157.6 401.3 1157.7 391.0 1157.8 397.5 1157.9 397.3 1157.9 399.1 1158.0 399.7 1158.1 400.6 1158.2 401.2 1158.3 402.4 1158.3 404.3 1158.4 403.4 1158.5 399.4 1158.6 403.9 1158.7 400.1 1158.8 405.7 1158.8 399.8 1158.9 402.7 1159.0 403.3 1159.1 389.5 1159.2 383.7 1159.3 392.7 1159.3 402.9 1159.4 400.7 1159.5 405.1 1159.6 400.7 1159.7 404.9 1159.7 401.3 1159.8 402.8 1159.9 404.6 1160.0 404.0 1160.1 397.5 1160.2 403.8 1160.2 404.7 1160.3 403.9 1160.4 399.0 1160.5 403.8 1160.6 401.1 1160.6 401.5 1160.7 404.1 1160.8 399.6 1160.9 401.7 1161.0 396.3 1161.1 401.6 1161.1 403.3 1161.2 404.1 1161.3 403.8 1161.4 405.5 1161.5 398.2 1161.5 397.2 1161.6 392.8 1161.7 407.2 1161.8 403.1 1161.9 393.4 1161.9 407.7 1162.0 404.3 1162.1 405.5 1162.2 407.9 1162.3 403.7 1162.3 390.8 1162.4 395.4 1162.5 389.6 1162.6 400.8 1162.7 404.6 1162.8 400.2 1162.8 403.7 1162.9 403.3 1163.0 386.9 1163.1 400.6 1163.2 395.2 1163.2 386.9 1163.3 378.4 1163.4 400.0 1163.5 404.5 1163.6 399.6 1163.6 404.5 1163.7 403.0 1163.8 402.0 1163.9 392.8 1164.0 397.3 1164.0 393.2 1164.1 387.6 1164.2 391.2 1164.3 382.4 1164.4 375.2 1164.4 367.8 1164.5 362.1 1164.6 367.2 1164.7 378.0 1164.8 381.5 1164.8 386.7 1164.9 377.6 1165.0 389.3 1165.1 396.1 1165.2 404.9 1165.2 399.3 1165.3 404.6 1165.4 403.0 1165.5 405.2 1165.6 404.7 1165.6 402.5 1165.7 405.9 1165.8 406.4 1165.9 400.5 1166.0 402.2 1166.0 405.0 1166.1 380.2 1166.2 404.5 1166.3 404.1 1166.4 405.3 1166.4 401.5 1166.5 381.2 1166.6 404.4 1166.7 402.7 1166.8 408.5 1166.8 403.3 1166.9 401.0 1167.0 406.6 1167.1 404.3 1167.2 377.8 1167.2 410.0 1167.3 405.5 1167.4 402.6 1167.5 409.7 1167.6 407.4 1167.6 405.1 1167.7 402.6 1167.8 399.6 1167.9 407.7 1167.9 408.3 1168.0 405.1 1168.1 408.1 1168.2 410.9 1168.3 397.9 1168.3 404.2 1168.4 407.3 1168.5 408.1 1168.6 408.0 1168.7 408.3 1168.7 405.4 1168.8 409.9 1168.9 395.2 1169.0 400.5 1169.1 408.6 1169.1 408.8 1169.2 395.9 1169.3 410.2 1169.4 404.4 1169.4 405.8 1169.5 406.0 1169.6 408.9 1169.7 404.1 1169.8 407.7 1169.8 407.0 1169.9 405.8 1170.0 395.9 1170.1 406.1 1170.2 408.3 1170.2 406.5 1170.3 407.8 1170.4 404.5 1170.5 400.9 1170.5 406.1 1170.6 405.1 1170.7 407.2 1170.8 409.1 1170.9 407.1 1170.9 405.0 1171.0 408.6 1171.1 405.6 1171.2 408.1 1171.2 405.4 1171.3 405.0 1171.4 394.9 1171.5 402.7 1171.6 376.9 1171.6 402.8 1171.7 391.0 1171.8 404.2 1171.9 386.2 1171.9 405.9 1172.0 403.9 1172.1 390.2 1172.2 399.7 1172.3 402.1 1172.3 393.7 1172.4 390.3 1172.5 392.6 1172.6 390.9 1172.6 386.3 1172.7 380.9 1172.8 375.5 1172.9 365.7 1173.0 358.4 1173.0 345.0 1173.1 329.9 1173.2 322.9 1173.3 327.6 1173.3 336.7 1173.4 352.0 1173.5 363.5 1173.6 371.9 1173.6 380.9 1173.7 383.4 1173.8 386.1 1173.9 394.7 1174.0 394.4 1174.0 394.7 1174.1 394.4 1174.2 397.4 1174.3 404.1 1174.3 403.3 1174.4 406.0 1174.5 404.8 1174.6 407.9 1174.6 406.9 1174.7 404.4 1174.8 404.0 1174.9 408.9 1175.0 404.9 1175.0 411.5 1175.1 387.2 1175.2 406.9 1175.3 408.4 1175.3 406.7 1175.4 405.9 1175.5 411.5 1175.6 409.9 1175.6 408.3 1175.7 401.0 1175.8 410.6 1175.9 412.0 1176.0 402.6 1176.0 406.7 1176.1 411.9 1176.2 389.7 1176.3 414.1 1176.3 408.0 1176.4 407.0 1176.5 415.7 1176.6 411.1 1176.6 411.0 1176.7 413.0 1176.8 397.6 1176.9 410.8 1176.9 411.8 1177.0 406.5 1177.1 415.4 1177.2 414.5 1177.2 412.1 1177.3 410.3 1177.4 410.8 1177.5 413.1 1177.5 411.5 1177.6 402.8 1177.7 413.1 1177.8 410.5 1177.9 406.4 1177.9 405.4 1178.0 410.2 1178.1 406.9 1178.2 410.8 1178.2 409.5 1178.3 404.5 1178.4 405.2 1178.5 393.5 1178.5 395.0 1178.6 390.0 1178.7 387.8 1178.8 376.0 1178.8 372.6 1178.9 368.3 1179.0 377.5 1179.1 384.7 1179.1 391.5 1179.2 398.9 1179.3 403.4 1179.4 404.0 1179.4 402.5 1179.5 405.5 1179.6 408.5 1179.7 412.7 1179.7 414.2 1179.8 412.2 1179.9 408.4 1180.0 416.8 1180.0 395.2 1180.1 416.6 1180.2 413.1 1180.3 415.2 1180.3 416.9 1180.4 406.3 1180.5 415.8 1180.6 410.3 1180.6 411.4 1180.7 415.5 1180.8 418.5 1180.9 411.3 1180.9 416.6 1181.0 409.2 1181.1 410.3 1181.2 403.0 1181.2 410.7 1181.3 419.0 1181.4 417.3 1181.5 418.6 1181.5 417.8 1181.6 401.9 1181.7 419.1 1181.8 416.6 1181.8 411.2 1181.9 417.0 1182.0 405.3 1182.1 385.1 1182.1 405.8 1182.2 418.2 1182.3 413.1 1182.4 415.5 1182.4 410.6 1182.5 405.4 1182.6 413.2 1182.7 410.6 1182.7 417.8 1182.8 415.6 1182.9 411.7 1182.9 419.9 1183.0 415.3 1183.1 407.8 1183.2 418.3 1183.2 418.5 1183.3 418.5 1183.4 408.0 1183.5 402.1 1183.5 402.0 1183.6 382.0 1183.7 415.8 1183.8 413.9 1183.8 415.6 1183.9 414.5 1184.0 420.4 1184.1 408.9 1184.1 406.0 1184.2 411.8 1184.3 417.5 1184.4 413.3 1184.4 413.2 1184.5 415.8 1184.6 418.5 1184.6 406.5 1184.7 405.9 1184.8 411.9 1184.9 410.8 1184.9 421.3 1185.0 401.9 1185.1 419.9 1185.2 395.5 1185.2 418.0 1185.3 391.7 1185.4 417.2 1185.5 410.6 1185.5 409.0 1185.6 396.6 1185.7 419.4 1185.7 420.4 1185.8 419.5 1185.9 414.9 1186.0 421.7 1186.0 407.4 1186.1 420.3 1186.2 412.1 1186.3 408.2 1186.3 410.1 1186.4 411.5 1186.5 411.7 1186.6 412.2 1186.6 420.0 1186.7 416.7 1186.8 417.5 1186.8 397.1 1186.9 419.5 1187.0 416.2 1187.1 412.8 1187.1 415.6 1187.2 415.3 1187.3 419.9 1187.4 414.5 1187.4 412.2 1187.5 410.0 1187.6 416.3 1187.6 410.5 1187.7 415.3 1187.8 412.8 1187.9 407.9 1187.9 409.9 1188.0 404.0 1188.1 413.9 1188.2 407.2 1188.2 417.2 1188.3 422.8 1188.4 415.1 1188.4 417.9 1188.5 420.3 1188.6 422.9 1188.7 408.9 1188.7 421.8 1188.8 421.6 1188.9 421.3 1188.9 416.9 1189.0 417.7 1189.1 412.2 1189.2 413.7 1189.2 415.7 1189.3 416.5 1189.4 414.6 1189.5 408.3 1189.5 415.7 1189.6 412.0 1189.7 414.7 1189.7 403.1 1189.8 412.1 1189.9 412.4 1190.0 413.2 1190.0 409.0 1190.1 394.2 1190.2 399.6 1190.2 392.8 1190.3 370.6 1190.4 375.7 1190.5 369.7 1190.5 363.7 1190.6 367.7 1190.7 384.9 1190.7 385.7 1190.8 397.9 1190.9 401.4 1191.0 401.9 1191.0 411.9 1191.1 413.0 1191.2 412.9 1191.2 405.3 1191.3 416.8 1191.4 420.7 1191.5 396.8 1191.5 415.2 1191.6 411.9 1191.7 413.2 1191.7 414.3 1191.8 416.9 1191.9 419.6 1192.0 420.0 1192.0 416.7 1192.1 421.0 1192.2 412.3 1192.2 410.5 1192.3 420.4 1192.4 417.7 1192.5 419.0 1192.5 411.5 1192.6 421.4 1192.7 420.2 1192.7 411.6 1192.8 415.8 1192.9 418.3 1193.0 413.0 1193.0 399.7 1193.1 410.1 1193.2 417.7 1193.2 418.9 1193.3 405.0 1193.4 395.6 1193.5 416.6 1193.5 406.3 1193.6 409.3 1193.7 416.9 1193.7 409.0 1193.8 412.6 1193.9 395.2 1193.9 414.0 1194.0 404.9 1194.1 408.5 1194.2 406.9 1194.2 398.1 1194.3 408.2 1194.4 392.2 1194.4 406.8 1194.5 404.6 1194.6 403.1 1194.7 398.0 1194.7 389.9 1194.8 394.7 1194.9 394.3 1194.9 387.5 1195.0 390.6 1195.1 385.2 1195.1 383.6 1195.2 376.8 1195.3 372.2 1195.4 367.4 1195.4 363.7 1195.5 356.9 1195.6 349.8 1195.6 339.4 1195.7 330.4 1195.8 320.5 1195.9 308.3 1195.9 294.3 1196.0 276.9 1196.1 261.3 1196.1 249.8 1196.2 244.2 1196.3 249.4 1196.3 263.1 1196.4 276.8 1196.5 293.5 1196.6 308.6 1196.6 318.7 1196.7 331.2 1196.8 333.7 1196.8 349.6 1196.9 356.4 1197.0 360.2 1197.0 368.9 1197.1 372.3 1197.2 370.0 1197.2 378.2 1197.3 382.1 1197.4 390.7 1197.5 391.2 1197.5 393.2 1197.6 396.6 1197.7 398.4 1197.7 395.1 1197.8 400.8 1197.9 404.3 1197.9 402.9 1198.0 405.0 1198.1 408.5 1198.2 408.5 1198.2 411.7 1198.3 411.3 1198.4 403.0 1198.4 415.3 1198.5 409.9 1198.6 414.7 1198.6 412.2 1198.7 414.4 1198.8 418.1 1198.8 414.4 1198.9 416.3 1199.0 399.6 1199.1 413.0 1199.1 414.2 1199.2 419.8 1199.3 398.4 1199.3 412.5 1199.4 411.4 1199.5 422.4 1199.5 414.6 1199.6 418.6 1199.7 418.4 1199.7 406.1 1199.8 391.9 1199.9 416.2 1200.0 413.7 1200.0 407.4 1200.1 422.3 1200.2 412.2 1200.2 416.0 1200.3 413.3 1200.4 418.2 1200.4 418.5 1200.5 422.0 1200.6 417.4 1200.6 413.3 1200.7 411.5 1200.8 408.9 1200.8 413.3 1200.9 411.8 1201.0 405.7 1201.1 390.7 1201.1 393.7 1201.2 385.3 1201.3 378.4 1201.3 362.9 1201.4 360.5 1201.5 368.2 1201.5 370.5 1201.6 383.9 1201.7 384.6 1201.7 402.1 1201.8 399.0 1201.9 410.0 1201.9 400.1 1202.0 406.4 1202.1 411.9 1202.1 416.1 1202.2 419.9 1202.3 412.5 1202.4 415.1 1202.4 420.8 1202.5 419.6 1202.6 395.9 1202.6 421.8 1202.7 422.8 1202.8 418.7 1202.8 415.6 1202.9 426.0 1203.0 421.8 1203.0 422.1 1203.1 424.5 1203.2 425.4 1203.2 422.4 1203.3 382.5 1203.4 420.2 1203.4 406.3 1203.5 426.5 1203.6 416.7 1203.6 423.3 1203.7 427.1 1203.8 415.3 1203.8 420.5 1203.9 426.2 1204.0 425.0 1204.0 428.2 1204.1 427.9 1204.2 427.7 1204.3 425.5 1204.3 425.4 1204.4 426.1 1204.5 411.8 1204.5 426.1 1204.6 427.5 1204.7 405.9 1204.7 422.4 1204.8 425.5 1204.9 418.8 1204.9 411.9 1205.0 423.7 1205.1 423.3 1205.1 423.0 1205.2 427.7 1205.3 426.1 1205.3 424.4 1205.4 427.7 1205.5 419.6 1205.5 419.6 1205.6 422.0 1205.7 422.2 1205.7 424.0 1205.8 408.0 1205.9 420.8 1205.9 405.9 1206.0 422.4 1206.1 427.2 1206.1 401.7 1206.2 417.2 1206.3 424.4 1206.3 416.3 1206.4 410.6 1206.5 415.8 1206.5 422.4 1206.6 424.8 1206.7 397.3 1206.7 414.4 1206.8 426.0 1206.9 425.8 1206.9 415.2 1207.0 419.7 1207.1 426.3 1207.1 421.0 1207.2 426.0 1207.3 391.9 1207.3 416.6 1207.4 420.6 1207.5 427.1 1207.5 411.7 1207.6 425.9 1207.7 412.4 1207.7 426.0 1207.8 406.4 1207.9 422.8 1207.9 418.9 1208.0 412.1 1208.1 423.9 1208.1 415.8 1208.2 422.2 1208.3 411.7 1208.3 384.7 1208.4 414.8 1208.5 422.2 1208.5 425.7 1208.6 424.1 1208.7 421.4 1208.7 424.2 1208.8 426.4 1208.9 408.5 1208.9 421.9 1209.0 421.8 1209.1 409.5 1209.1 420.1 1209.2 424.0 1209.3 415.1 1209.3 395.6 1209.4 424.9 1209.5 408.9 1209.5 404.7 1209.6 419.4 1209.7 410.1 1209.7 420.4 1209.8 413.0 1209.9 412.2 1209.9 427.8 1210.0 429.3 1210.1 421.3 1210.1 430.2 1210.2 423.5 1210.3 405.6 1210.3 416.1 1210.4 422.1 1210.5 418.7 1210.5 426.9 1210.6 427.9 1210.7 423.8 1210.7 425.3 1210.8 412.6 1210.9 427.1 1210.9 417.9 1211.0 427.0 1211.1 398.9 1211.1 430.9 1211.2 427.2 1211.2 423.5 1211.3 425.5 1211.4 428.9 1211.4 410.7 1211.5 397.1 1211.6 428.4 1211.6 427.2 1211.7 408.9 1211.8 426.7 1211.8 424.2 1211.9 398.9 1212.0 412.8 1212.0 424.7 1212.1 421.6 1212.2 414.0 1212.2 426.4 1212.3 429.8 1212.4 421.4 1212.4 421.1 1212.5 415.6 1212.6 421.6 1212.6 421.9 1212.7 402.0 1212.8 421.8 1212.8 423.2 1212.9 405.9 1212.9 413.0 1213.0 402.5 1213.1 403.7 1213.1 396.7 1213.2 400.5 1213.3 385.6 1213.3 396.5 1213.4 389.0 1213.5 402.9 1213.5 412.7 1213.6 416.7 1213.7 410.3 1213.7 421.0 1213.8 422.1 1213.9 408.7 1213.9 420.1 1214.0 428.0 1214.1 414.3 1214.1 427.3 1214.2 417.2 1214.2 430.6 1214.3 422.6 1214.4 405.2 1214.4 411.0 1214.5 430.7 1214.6 422.3 1214.6 425.9 1214.7 418.8 1214.8 431.3 1214.8 426.6 1214.9 416.5 1215.0 430.9 1215.0 414.6 1215.1 431.5 1215.2 403.8 1215.2 429.4 1215.3 420.4 1215.3 430.7 1215.4 414.4 1215.5 416.6 1215.5 430.3 1215.6 430.6 1215.7 424.1 1215.7 423.3 1215.8 422.7 1215.9 427.5 1215.9 431.2 1216.0 424.1 1216.1 414.4 1216.1 426.9 1216.2 428.4 1216.2 399.1 1216.3 416.6 1216.4 420.9 1216.4 429.3 1216.5 382.2 1216.6 428.9 1216.6 424.9 1216.7 417.7 1216.8 391.2 1216.8 409.9 1216.9 420.0 1217.0 421.0 1217.0 417.1 1217.1 413.4 1217.1 409.9 1217.2 406.7 1217.3 375.8 1217.3 356.6 1217.4 392.0 1217.5 375.1 1217.5 371.0 1217.6 358.6 1217.7 343.9 1217.7 346.4 1217.8 356.3 1217.8 367.6 1217.9 376.5 1218.0 387.0 1218.0 388.9 1218.1 397.9 1218.2 390.1 1218.2 404.1 1218.3 409.4 1218.4 416.4 1218.4 409.1 1218.5 423.8 1218.5 400.8 1218.6 418.2 1218.7 427.7 1218.7 427.3 1218.8 424.5 1218.9 427.5 1218.9 429.0 1219.0 430.5 1219.1 417.4 1219.1 428.5 1219.2 409.7 1219.2 430.0 1219.3 432.7 1219.4 429.5 1219.4 431.9 1219.5 423.2 1219.6 414.1 1219.6 415.9 1219.7 404.3 1219.8 425.7 1219.8 427.5 1219.9 431.3 1219.9 412.5 1220.0 432.3 1220.1 433.0 1220.1 431.9 1220.2 427.8 1220.3 432.9 1220.3 430.0 1220.4 427.0 1220.4 431.4 1220.5 430.4 1220.6 420.0 1220.6 430.2 1220.7 426.6 1220.8 425.8 1220.8 431.5 1220.9 428.2 1221.0 419.6 1221.0 404.6 1221.1 431.2 1221.1 429.8 1221.2 403.9 1221.3 427.8 1221.3 413.0 1221.4 396.3 1221.5 424.5 1221.5 390.3 1221.6 426.3 1221.6 402.1 1221.7 404.6 1221.8 406.9 1221.8 421.6 1221.9 415.1 1222.0 417.8 1222.0 396.2 1222.1 409.3 1222.1 410.5 1222.2 406.1 1222.3 399.0 1222.3 404.7 1222.4 401.2 1222.5 398.3 1222.5 393.3 1222.6 384.9 1222.6 378.9 1222.7 374.3 1222.8 366.9 1222.8 357.1 1222.9 347.6 1223.0 333.0 1223.0 321.8 1223.1 306.8 1223.1 298.8 1223.2 294.2 1223.3 300.7 1223.3 311.8 1223.4 325.3 1223.5 334.8 1223.5 348.3 1223.6 360.8 1223.6 366.5 1223.7 354.1 1223.8 358.5 1223.8 382.4 1223.9 395.4 1224.0 399.9 1224.0 402.4 1224.1 407.8 1224.1 406.2 1224.2 401.9 1224.3 412.5 1224.3 396.1 1224.4 416.9 1224.5 410.8 1224.5 410.1 1224.6 415.7 1224.6 420.1 1224.7 421.6 1224.8 425.5 1224.8 429.1 1224.9 421.2 1224.9 429.2 1225.0 427.4 1225.1 420.8 1225.1 430.5 1225.2 416.2 1225.3 426.2 1225.3 404.8 1225.4 419.4 1225.4 416.5 1225.5 427.8 1225.6 422.0 1225.6 431.5 1225.7 423.4 1225.8 416.0 1225.8 432.8 1225.9 427.7 1225.9 426.8 1226.0 431.7 1226.1 420.0 1226.1 425.3 1226.2 432.6 1226.2 428.3 1226.3 412.5 1226.4 430.4 1226.4 418.3 1226.5 397.5 1226.6 417.6 1226.6 427.2 1226.7 420.8 1226.7 398.8 1226.8 422.8 1226.9 423.0 1226.9 424.3 1227.0 410.6 1227.0 424.6 1227.1 417.5 1227.2 416.7 1227.2 416.3 1227.3 409.4 1227.3 405.9 1227.4 407.2 1227.5 404.5 1227.5 398.9 1227.6 385.8 1227.7 385.5 1227.7 370.5 1227.8 352.7 1227.8 353.0 1227.9 340.7 1228.0 330.7 1228.0 329.2 1228.1 339.0 1228.1 346.8 1228.2 359.4 1228.3 368.4 1228.3 374.6 1228.4 380.4 1228.4 391.6 1228.5 400.1 1228.6 404.3 1228.6 410.7 1228.7 415.0 1228.8 411.2 1228.8 413.8 1228.9 414.7 1228.9 385.0 1229.0 401.5 1229.1 424.1 1229.1 427.4 1229.2 426.3 1229.2 419.5 1229.3 424.2 1229.4 432.4 1229.4 411.5 1229.5 426.1 1229.5 425.4 1229.6 402.1 1229.7 423.3 1229.7 408.1 1229.8 420.3 1229.8 432.9 1229.9 424.0 1230.0 433.1 1230.0 413.3 1230.1 420.7 1230.1 434.6 1230.2 411.8 1230.3 435.4 1230.3 435.5 1230.4 433.6 1230.5 429.8 1230.5 430.0 1230.6 406.4 1230.6 426.5 1230.7 429.1 1230.8 419.2 1230.8 424.6 1230.9 432.1 1230.9 428.4 1231.0 420.7 1231.1 427.6 1231.1 422.7 1231.2 434.3 1231.2 417.5 1231.3 432.9 1231.4 426.8 1231.4 408.6 1231.5 409.5 1231.5 428.7 1231.6 418.8 1231.7 426.6 1231.7 395.2 1231.8 416.5 1231.8 409.6 1231.9 421.7 1232.0 396.3 1232.0 408.1 1232.1 397.9 1232.1 411.4 1232.2 389.4 1232.3 401.2 1232.3 395.0 1232.4 387.6 1232.4 372.2 1232.5 344.0 1232.6 358.6 1232.6 348.5 1232.7 338.6 1232.7 343.6 1232.8 346.2 1232.9 359.2 1232.9 369.6 1233.0 381.6 1233.0 387.6 1233.1 396.6 1233.2 402.2 1233.2 406.0 1233.3 404.2 1233.3 416.9 1233.4 404.6 1233.5 408.1 1233.5 420.6 1233.6 410.5 1233.6 419.5 1233.7 417.4 1233.8 417.1 1233.8 430.4 1233.9 430.6 1233.9 411.0 1234.0 432.2 1234.1 430.8 1234.1 409.9 1234.2 433.8 1234.2 431.5 1234.3 432.4 1234.3 429.2 1234.4 429.9 1234.5 427.0 1234.5 430.8 1234.6 406.7 1234.6 408.1 1234.7 425.0 1234.8 417.6 1234.8 436.0 1234.9 431.3 1234.9 419.6 1235.0 425.4 1235.1 426.7 1235.1 434.6 1235.2 430.4 1235.2 427.0 1235.3 436.1 1235.4 423.8 1235.4 435.5 1235.5 426.8 1235.5 434.8 1235.6 389.9 1235.7 406.8 1235.7 437.4 1235.8 409.5 1235.8 430.6 1235.9 433.9 1235.9 414.3 1236.0 437.0 1236.1 431.5 1236.1 434.1 1236.2 435.4 1236.2 427.4 1236.3 421.7 1236.4 435.8 1236.4 435.7 1236.5 428.0 1236.5 424.9 1236.6 426.0 1236.7 426.2 1236.7 428.3 1236.8 429.7 1236.8 437.5 1236.9 429.1 1236.9 431.0 1237.0 426.3 1237.1 422.4 1237.1 427.1 1237.2 422.3 1237.2 432.0 1237.3 429.6 1237.4 432.1 1237.4 418.2 1237.5 432.0 1237.5 426.7 1237.6 428.7 1237.7 429.7 1237.7 428.4 1237.8 426.6 1237.8 422.9 1237.9 419.8 1237.9 410.9 1238.0 422.7 1238.1 422.5 1238.1 412.9 1238.2 414.6 1238.2 411.9 1238.3 403.6 1238.4 395.6 1238.4 392.8 1238.5 401.0 1238.5 383.8 1238.6 382.9 1238.6 380.6 1238.7 367.4 1238.8 361.4 1238.8 347.0 1238.9 336.0 1238.9 327.9 1239.0 322.9 1239.1 327.7 1239.1 332.9 1239.2 348.1 1239.2 360.2 1239.3 366.8 1239.3 372.5 1239.4 382.9 1239.5 386.0 1239.5 396.4 1239.6 403.7 1239.6 400.2 1239.7 413.5 1239.8 412.1 1239.8 411.3 1239.9 400.1 1239.9 420.9 1240.0 415.6 1240.0 416.9 1240.1 423.9 1240.2 413.2 1240.2 408.8 1240.3 428.5 1240.3 426.3 1240.4 426.0 1240.4 420.7 1240.5 424.8 1240.6 412.9 1240.6 421.0 1240.7 429.8 1240.7 431.9 1240.8 434.5 1240.9 436.2 1240.9 432.5 1241.0 420.5 1241.0 434.8 1241.1 427.2 1241.1 418.0 1241.2 434.2 1241.3 427.5 1241.3 425.4 1241.4 433.6 1241.4 421.6 1241.5 427.5 1241.5 425.1 1241.6 416.6 1241.7 423.7 1241.7 429.8 1241.8 433.8 1241.8 435.2 1241.9 406.8 1241.9 429.6 1242.0 431.3 1242.1 398.1 1242.1 436.3 1242.2 418.1 1242.2 416.3 1242.3 429.2 1242.4 431.1 1242.4 429.0 1242.5 432.6 1242.5 440.4 1242.6 417.7 1242.6 436.3 1242.7 425.9 1242.8 431.5 1242.8 435.6 1242.9 434.1 1242.9 434.9 1243.0 423.8 1243.0 426.7 1243.1 430.2 1243.2 435.3 1243.2 432.2 1243.3 424.1 1243.3 435.9 1243.4 435.2 1243.4 437.7 1243.5 429.7 1243.6 436.7 1243.6 418.3 1243.7 429.5 1243.7 428.0 1243.8 430.0 1243.8 425.0 1243.9 424.0 1244.0 424.4 1244.0 430.8 1244.1 429.4 1244.1 431.9 1244.2 403.9 1244.2 418.1 1244.3 400.6 1244.4 422.5 1244.4 417.8 1244.5 410.0 1244.5 394.8 1244.6 391.8 1244.6 401.3 1244.7 405.4 1244.8 392.2 1244.8 418.6 1244.9 424.0 1244.9 424.7 1245.0 411.3 1245.0 426.6 1245.1 431.6 1245.1 427.4 1245.2 425.4 1245.3 437.5 1245.3 435.2 1245.4 430.6 1245.4 435.6 1245.5 426.3"/>
<path stroke="#36a844" d="M217.5 370.2L228.8 389.5 234.5 387.1 242.9 388.1 248.6 384.3 254.2 387.1 260.8 395.6 264.5 394.2 271.1 380.6 279.6 388.6 285.2 383.4 291.8 385.3 296.1 382.0 303.1 388.6 307.8 386.7 314.4 397.5 321.0 382.4 324.7 392.9 328.5 398.1 332.2 394.3 336.0 396.2 341.2 388.2 345.4 392.9 350.6 400.4 353.9 392.9 359.5 405.1 363.3 395.7 368.0 393.4 372.7 393.9 376.9 386.8 382.1 399.0 387.7 398.6 392.9 394.8 397.6 400.4 401.8 399.0 406.5 410.3 412.6 388.7 415.9 404.7 420.6 396.7 424.4 400.4 428.2 380.2 430.0 385.7 431.9 395.6 432.8 400.1 433.7 400.0 435.6 401.9 437.5 402.0 439.2 402.2 441.3 398.2 442.8 400.3 444.6 409.3 445.0 410.4 446.3 405.5 448.1 401.2 449.8 392.4 451.2 387.9 453.2 396.7 454.9 402.4 456.6 401.8 458.2 398.2 459.9 402.1 461.0 405.3 461.6 404.3 463.2 400.0 464.8 395.7 466.2 390.7 468.0 394.5 469.6 397.1 471.4 399.2 472.8 395.1 474.3 392.2 476.1 388.8 477.4 394.7 478.4 401.0 479.0 399.3 480.5 397.2 481.7 394.5 483.5 395.4 485.0 395.2 486.4 394.9 487.9 399.1 489.4 401.1 490.8 406.1 492.5 409.0 493.7 405.1 495.1 400.9 496.5 395.0 497.2 394.0 498.0 395.2 499.4 399.3 500.7 403.3 502.1 407.9 503.5 412.3 504.3 411.4 504.9 409.6 506.2 404.6 507.6 399.0 508.9 397.6 509.9 393.5 510.3 394.4 511.6 396.9 512.9 398.4 514.2 401.1 515.5 406.0 516.5 405.7 518.1 406.2 519.4 405.6 520.7 406.1 521.9 404.9 523.2 405.0 524.0 406.2 524.5 405.2 525.7 400.8 526.9 399.3 528.2 397.1 528.7 396.8 529.4 398.7 530.6 400.7 531.9 405.3 533.1 406.1 534.3 408.5 535.3 412.3 536.7 408.1 537.8 405.6 539.0 401.6 540.2 395.3 541.0 394.5 541.4 396.2 542.5 398.6 543.7 400.7 544.8 404.7 546.0 409.4 546.6 409.8 547.1 407.3 548.2 402.4 549.4 398.2 550.8 392.4 551.6 393.7 552.7 394.9 554.1 396.6 554.9 403.6 556.0 408.0 556.9 414.5 558.2 410.7 559.3 404.2 560.7 399.9 561.4 404.0 562.5 402.8 563.6 403.1 564.6 404.7 565.7 403.5 566.3 407.0 566.7 404.6 567.8 401.7 568.8 397.3 570.1 393.3 570.9 399.5 571.9 400.2 572.9 402.3 573.9 412.6 574.9 413.8 575.9 407.3 576.9 409.7 577.9 402.6 578.6 403.7 579.9 408.2 580.9 409.4 581.9 411.0 582.8 412.6 583.8 399.4 584.2 397.6 584.8 398.3 585.8 396.4 586.7 393.1 587.7 392.8 588.4 394.3 589.6 396.9 590.5 400.9 591.5 405.1 592.4 409.6 593.3 412.0 594.1 415.4 595.2 410.5 596.1 407.8 597.0 405.4 598.3 397.6 598.9 399.7 599.8 403.4 600.7 408.0 601.6 410.3 602.5 406.7 603.4 406.5 604.3 400.6 604.9 399.0 606.0 405.1 606.9 409.7 607.7 411.2 608.7 406.3 609.5 409.4 610.4 404.6 611.3 402.9 612.4 400.9 613.0 399.4 613.8 398.8 614.7 401.6 615.5 399.8 616.2 400.4 617.2 406.5 618.1 413.5 618.5 417.3 618.9 417.6 619.7 413.2 620.6 413.7 621.4 409.2 622.2 408.7 622.8 407.9 623.9 406.3 624.7 404.5 625.5 404.1 626.3 401.4 627.1 402.8 627.9 401.1 628.9 399.5 629.5 402.8 630.3 406.6 631.1 411.4 631.9 417.5 632.6 421.6 633.5 418.5 634.2 415.1 635.0 415.9 635.8 411.7 636.9 407.0 637.4 406.8 638.1 408.4 638.9 407.2 639.7 405.6 640.4 402.0 641.2 407.3 641.6 405.6 642.7 411.2 643.4 417.3 644.4 426.7 644.9 424.6 645.7 423.1 646.4 417.5 647.2 418.0 647.9 416.4 648.6 411.1 649.1 410.3 650.1 411.5 650.8 416.9 651.6 417.5 652.3 417.1 653.0 419.8 653.8 420.1 654.5 417.8 655.2 415.6 655.9 414.0 656.6 411.2 657.3 417.4 658.0 418.2 658.7 421.7 659.4 424.8 659.6 408.8 660.3 408.1 661.0 409.4 661.7 409.8 662.4 410.6 663.1 410.9 663.8 412.1 664.5 411.9 665.1 411.7 665.8 414.0 666.5 414.5 667.2 413.0 667.9 413.7 668.5 417.3 669.2 417.7 669.9 413.5 670.6 414.2 671.2 408.3 671.9 423.5 672.6 415.4 673.2 423.0 673.9 419.0 674.5 427.0 675.2 425.5 675.8 419.4 676.5 425.8 677.1 412.3 677.8 424.6 678.4 408.8 679.1 419.3 679.7 423.5 680.4 418.4 681.0 414.7 681.7 411.9 682.3 414.6 682.9 423.4 683.6 422.3 684.2 414.8 684.8 408.3 685.5 420.7 686.1 406.9 686.7 412.8 687.3 411.4 687.9 421.0 688.6 417.6 689.2 419.0 689.8 417.7 690.4 411.4 691.0 419.3 691.6 425.0 692.3 415.6 692.9 420.1 693.5 415.5 694.1 422.7 694.7 420.6 695.3 421.9 695.9 419.0 696.5 426.3 697.1 415.6 697.7 416.0 698.3 415.0 698.9 421.1 699.5 415.4 700.0 415.6 700.6 421.7 701.2 423.5 701.8 420.7 702.4 407.0 703.0 413.9 703.6 413.4 704.1 412.9 704.7 416.0 705.3 424.5 705.9 416.2 706.4 414.5 707.0 419.6 707.6 417.2 708.1 417.2 708.7 414.2 709.3 416.3 709.9 417.4 710.4 409.4 711.0 410.2 711.5 418.6 712.1 417.5 712.7 413.0 713.2 411.1 713.8 413.4 714.3 410.1 714.9 412.4 715.4 418.1 716.0 413.3 716.5 416.2 717.1 412.1 717.6 413.8 718.2 416.5 718.7 408.9 719.3 411.6 719.8 412.1 720.3 413.2 720.9 416.5 721.4 414.2 722.0 408.5 722.5 411.6 723.0 410.0 723.6 409.9 724.1 417.1 724.6 409.6 725.2 412.7 725.7 410.5 726.2 414.2 726.7 413.0 727.3 412.5 727.8 412.1 728.3 414.7 728.8 410.3 729.4 410.8 729.9 410.0 730.4 414.9 730.9 411.7 731.4 410.3 731.9 411.5 732.4 417.1 733.0 412.1 733.5 414.1 734.0 413.4 734.5 412.4 735.0 410.8 735.5 411.6 736.0 411.6 736.5 406.9 737.0 419.2 737.5 414.9 738.0 412.8 738.5 411.9 739.0 410.3 739.5 415.3 740.0 412.0 740.5 414.0 741.0 408.1 741.5 413.8 742.0 419.3 742.5 411.5 743.0 415.3 743.5 412.6 744.0 416.6 744.4 416.5 744.9 412.7 745.4 410.2 745.9 413.6 746.4 412.6 746.9 409.7 747.3 414.4 747.8 414.3 748.3 408.5 748.8 412.0 749.3 424.0 749.7 416.2 750.2 413.2 750.7 423.6 751.2 411.0 751.6 402.7 752.1 405.2 752.6 407.0 753.0 414.4 753.5 417.4 754.0 404.8 754.4 418.0 754.9 408.9 755.4 414.8 755.8 415.7 756.3 415.7 756.8 414.2 757.2 414.9 757.7 410.0 758.2 415.6 758.6 418.4 759.1 418.3 759.5 424.9 760.0 419.2 760.4 418.0 760.9 421.7 761.3 416.4 761.8 410.6 762.2 407.1 762.7 420.7 763.1 418.1 763.6 419.3 764.0 414.9 764.5 417.5 764.9 423.3 765.4 417.4 765.8 411.9 766.3 414.4 766.7 421.3 767.2 411.9 767.6 406.2 768.0 407.3 768.5 410.9 768.9 419.0 769.4 416.3 769.8 413.0 770.2 411.0 770.7 415.4 771.1 415.2 771.5 413.7 772.0 414.9 772.4 413.0 772.8 423.0 773.3 406.9 773.7 416.8 774.1 412.4 774.6 419.5 775.0 415.8 775.4 418.4 775.8 419.3 776.3 418.0 776.7 421.7 777.1 411.2 777.5 421.9 777.9 416.7 778.4 419.6 778.8 425.3 779.2 423.4 779.6 427.8 780.0 407.4 780.5 413.9 780.9 423.6 781.3 413.4 781.7 418.3 782.1 428.1 782.5 424.1 783.0 414.9 783.4 422.4 783.8 423.6 784.2 420.8 784.6 420.1 785.0 421.6 785.4 413.0 785.8 422.0 786.2 416.2 786.6 423.8 787.0 424.2 787.5 417.1 787.9 425.7 788.3 424.4 788.7 422.2 789.1 426.4 789.5 420.8 789.9 421.0 790.3 422.9 790.7 422.2 791.1 428.5 791.5 410.4 791.9 421.0 792.3 412.5 792.7 420.0 793.1 423.8 793.4 422.6 793.8 427.3 794.2 424.1 794.6 410.5 795.0 417.4 795.4 429.8 795.8 429.8 796.2 423.1 796.6 415.4 797.0 432.7 797.4 412.6 797.8 424.0 798.1 422.2 798.5 423.6 798.9 416.6 799.3 420.4 799.7 427.8 800.1 419.8 800.4 415.2 800.8 422.2 801.2 422.7 801.6 421.5 802.0 418.0 802.4 425.1 802.7 421.5 803.1 415.7 803.5 423.3 803.9 421.9 804.2 422.9 804.6 412.6 805.0 417.8 805.4 424.8 805.7 427.5 806.1 424.2 806.5 423.2 806.9 426.4 807.2 427.9 807.6 432.3 808.0 425.1 808.4 419.4 808.7 425.3 809.1 411.8 809.5 423.0 809.8 420.3 810.2 422.7 810.6 425.6 810.9 423.2 811.3 414.9 811.7 421.0 812.0 418.5 812.4 422.8 812.8 424.8 813.1 417.5 813.5 426.6 813.8 429.5 814.2 421.1 814.6 426.2 814.9 414.7 815.3 419.5 815.6 427.0 816.0 413.2 816.4 419.5 816.7 417.5 817.1 427.4 817.4 427.2 817.8 418.7 818.1 422.1 818.5 409.4 818.8 425.3 819.2 422.9 819.6 427.2 819.9 410.4 820.3 422.6 820.6 419.3 821.0 408.9 821.3 417.4 821.7 420.1 822.0 424.1 822.4 421.1 822.7 417.6 823.1 422.0 823.4 419.2 823.7 416.4 824.1 414.5 824.4 420.1 824.8 420.0 825.1 428.3 825.5 416.6 825.8 427.0 826.2 420.5 826.5 424.6 826.8 413.7 827.2 413.7 827.5 416.5 827.9 422.8 828.2 418.8 828.5 421.8 828.9 419.4 829.2 422.9 829.6 418.6 829.9 414.8 830.2 419.9 830.6 417.7 830.9 425.7 831.2 416.3 831.6 417.5 831.9 415.5 832.3 422.2 832.6 420.8 832.9 419.6 833.3 411.0 833.6 409.7 833.9 417.6 834.2 419.4 834.6 422.6 834.9 408.5 835.2 415.3 835.6 409.0 835.9 411.9 836.2 415.0 836.6 419.8 836.9 413.9 837.2 413.2 837.5 414.8 837.9 421.0 838.2 425.4 838.5 410.3 838.8 415.2 839.2 414.7 839.5 420.6 839.8 417.9 840.1 422.0 840.5 412.8 840.8 416.5 841.1 414.9 841.4 412.8 841.7 416.1 842.1 412.6 842.4 424.0 842.7 418.1 843.0 413.5 843.3 414.9 843.7 422.5 844.0 415.4 844.3 419.2 844.6 418.8 844.9 420.5 845.2 419.0 845.6 416.2 845.9 415.0 846.2 411.0 846.5 416.8 846.8 417.4 847.1 415.7 847.4 416.4 847.8 412.7 848.1 424.6 848.4 415.2 848.7 413.2 849.0 414.8 849.3 416.3 849.6 419.6 849.9 408.0 850.2 418.8 850.6 414.6 850.9 416.3 851.2 420.8 851.5 419.9 851.8 414.3 852.1 416.6 852.4 424.2 852.7 422.2 853.0 420.4 853.3 417.0 853.6 420.8 853.9 418.6 854.2 414.9 854.5 413.2 854.8 419.1 855.1 418.6 855.4 421.9 855.7 415.2 856.0 422.7 856.4 415.7 856.7 422.2 857.0 419.4 857.3 414.9 857.6 413.5 857.9 416.8 858.2 416.2 858.4 421.0 858.7 414.5 859.0 411.4 859.3 417.2 859.6 425.1 859.9 424.0 860.2 414.9 860.5 416.3 860.8 418.7 861.1 414.8 861.4 416.5 861.7 416.4 862.0 413.3 862.3 415.1 862.6 415.7 862.9 418.7 863.2 412.8 863.5 418.2 863.8 413.7 864.1 414.5 864.3 413.2 864.6 428.8 864.9 423.2 865.2 423.6 865.5 421.4 865.8 417.1 866.1 418.4 866.4 419.3 866.7 420.0 866.9 420.7 867.2 424.7 867.5 407.1 867.8 415.9 868.1 421.2 868.4 416.7 868.7 417.5 869.0 424.7 869.2 419.0 869.5 426.0 869.8 417.8 870.1 419.1 870.4 413.1 870.7 408.8 870.9 415.9 871.2 418.1 871.5 416.2 871.8 411.4 872.1 420.8 872.4 418.0 872.6 417.7 872.9 413.8 873.2 425.5 873.5 424.6 873.8 418.9 874.0 416.8 874.3 418.6 874.6 425.7 874.9 430.2 875.1 417.3 875.4 415.0 875.7 408.0 876.0 430.3 876.3 411.5 876.5 421.6 876.8 419.7 877.1 424.1 877.4 412.6 877.6 408.6 877.9 417.9 878.2 419.4 878.5 423.3 878.7 408.1 879.0 414.7 879.3 415.8 879.6 409.8 879.8 416.3 880.1 421.7 880.4 417.0 880.6 409.2 880.9 419.2 881.2 422.1 881.5 420.3 881.7 421.8 882.0 407.7 882.3 419.9 882.5 420.8 882.8 415.1 883.1 417.0 883.3 412.7 883.6 424.7 883.9 415.5 884.1 411.7 884.4 418.4 884.7 418.0 884.9 421.4 885.2 412.3 885.5 413.3 885.7 419.7 886.0 430.8 886.3 420.2 886.5 409.1 886.8 418.4 887.1 412.7 887.3 406.2 887.6 413.2 887.9 413.9 888.1 419.9 888.4 425.4 888.6 424.3 888.9 422.3 889.2 414.8 889.4 418.4 889.7 417.2 890.0 426.0 890.2 413.4 890.5 414.0 890.7 426.6 891.0 421.0 891.3 414.7 891.5 418.5 891.8 418.4 892.0 418.6 892.3 422.3 892.5 419.6 892.8 416.2 893.1 414.1 893.3 406.7 893.6 414.5 893.8 424.0 894.1 418.4 894.3 413.1 894.6 415.5 894.9 411.7 895.1 418.6 895.4 428.8 895.6 427.5 895.9 423.8 896.1 421.3 896.4 415.3 896.6 409.2 896.9 416.6 897.1 413.8 897.4 421.3 897.6 417.3 897.9 413.0 898.1 418.9 898.4 431.2 898.7 410.9 898.9 422.7 899.2 419.5 899.4 415.5 899.7 411.7 899.9 416.1 900.2 417.3 900.4 420.5 900.7 420.3 900.9 418.2 901.2 412.6 901.4 418.3 901.6 414.1 901.9 410.9 902.1 422.0 902.4 413.3 902.6 410.4 902.9 417.8 903.1 406.5 903.4 417.1 903.6 420.1 903.9 415.4 904.1 419.2 904.4 430.0 904.6 426.1 904.8 423.4 905.1 421.6 905.3 415.5 905.6 417.7 905.8 417.0 906.1 418.9 906.3 419.5 906.6 414.4 906.8 428.0 907.0 413.4 907.3 421.3 907.5 425.1 907.8 419.3 908.0 415.9 908.2 419.9 908.5 430.6 908.7 423.4 909.0 418.4 909.2 423.5 909.5 419.2 909.7 409.8 909.9 421.9 910.2 426.5 910.4 427.3 910.6 420.5 910.9 412.9 911.1 427.9 911.4 420.3 911.6 425.5 911.8 427.9 912.1 423.5 912.3 421.3 912.5 418.1 912.8 419.3 913.0 422.2 913.3 419.4 913.5 424.3 913.7 410.8 914.0 416.4 914.2 422.3 914.4 418.5 914.7 419.5 914.9 416.1 915.1 426.9 915.4 432.8 915.6 417.1 915.8 430.1 916.1 414.6 916.3 424.1 916.5 411.1 916.8 426.2 917.0 423.3 917.2 424.0 917.5 430.6 917.7 426.7 917.9 422.8 918.2 417.9 918.4 423.2 918.6 418.5 918.9 420.2 919.1 432.2 919.3 428.4 919.5 424.6 919.8 426.7 920.0 413.4 920.2 423.3 920.5 411.6 920.7 418.2 920.9 424.9 921.1 424.9 921.4 427.1 921.6 423.4 921.8 422.7 922.1 422.3 922.3 431.7 922.5 430.9 922.7 412.3 923.0 423.0 923.2 430.8 923.4 420.3 923.6 423.5 923.9 417.8 924.1 413.6 924.3 422.7 924.5 418.9 924.8 420.5 925.0 411.7 925.2 413.6 925.4 420.5 925.7 418.3 925.9 424.9 926.1 414.0 926.3 425.8 926.6 424.8 926.8 421.5 927.0 425.1 927.2 420.2 927.4 419.4 927.7 420.4 927.9 412.2 928.1 420.2 928.3 425.6 928.5 409.9 928.8 424.7 929.0 416.1 929.2 417.9 929.4 420.7 929.7 421.7 929.9 428.7 930.1 419.1 930.3 430.8 930.5 420.2 930.7 422.9 931.0 424.1 931.2 415.6 931.4 412.8 931.6 420.5 931.8 424.1 932.1 425.1 932.3 417.6 932.5 430.4 932.7 419.3 932.9 416.2 933.1 426.8 933.4 427.2 933.6 415.2 933.8 425.0 934.0 413.9 934.2 420.9 934.4 432.4 934.7 427.4 934.9 424.4 935.1 424.2 935.3 417.2 935.5 422.7 935.7 423.3 935.9 416.7 936.2 422.2 936.4 423.7 936.6 422.3 936.8 423.2 937.0 420.6 937.2 417.2 937.4 421.7 937.6 414.6 937.9 419.1 938.1 425.5 938.3 427.8 938.5 423.1 938.7 414.1 938.9 426.0 939.1 423.5 939.3 421.3 939.6 424.1 939.8 423.5 940.0 418.8 940.2 418.6 940.4 424.8 940.6 416.0 940.8 423.8 941.0 423.1 941.2 424.9 941.4 427.0 941.7 426.0 941.9 426.6 942.1 424.7 942.3 423.9 942.5 425.4 942.7 422.5 942.9 420.1 943.1 422.4 943.3 418.2 943.5 421.1 943.7 428.5 943.9 424.2 944.1 422.3 944.4 421.1 944.6 417.8 944.8 421.3 945.0 420.6 945.2 422.8 945.4 423.0 945.6 422.6 945.8 417.3 946.0 426.9 946.2 424.0 946.4 422.8 946.6 421.8 946.8 423.9 947.0 426.2 947.2 424.2 947.4 419.0 947.6 418.6 947.8 415.3 948.0 422.3 948.2 423.7 948.4 424.9 948.6 421.3 948.8 422.8 949.1 417.2 949.3 420.5 949.5 417.6 949.7 414.7 949.9 410.0 950.1 414.7 950.3 402.1 950.5 402.1 950.7 388.6 950.9 371.9 951.1 339.2 951.3 303.2 951.5 325.5 951.7 361.0 951.9 383.8 952.1 394.3 952.3 406.2 952.5 413.4 952.7 415.1 952.9 416.5 953.1 421.9 953.3 415.1 953.5 421.8 953.7 420.7 953.9 419.5 954.1 423.7 954.3 417.8 954.5 421.9 954.6 423.9 954.8 418.4 955.0 422.2 955.2 425.3 955.4 427.2 955.6 419.8 955.8 427.3 956.0 422.6 956.2 424.3 956.4 421.7 956.6 427.2 956.8 421.2 957.0 425.3 957.2 425.8 957.4 427.4 957.6 420.1 957.8 427.5 958.0 424.5 958.2 430.4 958.4 423.1 958.6 422.2 958.8 424.3 959.0 423.3 959.1 423.9 959.3 419.4 959.5 416.1 959.7 418.6 959.9 422.3 960.1 426.5 960.3 423.5 960.5 420.8 960.7 424.2 960.9 425.1 961.1 435.7 961.3 430.2 961.5 425.7 961.7 418.9 961.8 424.2 962.0 423.7 962.2 427.3 962.4 433.9 962.6 424.7 962.8 416.8 963.0 424.6 963.2 418.0 963.4 428.6 963.6 429.8 963.8 426.5 963.9 418.9 964.1 424.4 964.3 430.3 964.5 420.9 964.7 422.7 964.9 426.3 965.1 427.3 965.3 425.5 965.5 426.6 965.6 426.1 965.8 422.7 966.0 424.8 966.2 426.4 966.4 420.5 966.6 426.0 966.8 425.6 967.0 427.1 967.1 426.7 967.3 420.7 967.5 419.7 967.7 426.2 967.9 424.5 968.1 425.6 968.3 422.7 968.5 419.6 968.6 426.3 968.8 424.6 969.0 427.8 969.2 429.8 969.4 429.8 969.6 429.4 969.8 420.9 969.9 415.9 970.1 422.4 970.3 419.7 970.5 419.2 970.7 427.8 970.9 417.9 971.0 428.9 971.2 429.6 971.4 436.2 971.6 429.3 971.8 433.8 972.0 421.8 972.1 421.5 972.3 428.6 972.5 418.4 972.7 428.8 972.9 422.2 973.1 414.2 973.2 429.0 973.4 414.3 973.6 422.2 973.8 397.2 974.0 383.9 974.2 395.8 974.3 410.7 974.5 411.3 974.7 421.4 974.9 423.5 975.1 425.7 975.2 416.8 975.4 421.9 975.6 424.5 975.8 429.1 976.0 426.3 976.1 423.9 976.3 423.7 976.5 433.0 976.7 421.9 976.9 427.5 977.0 415.3 977.2 434.7 977.4 428.6 977.6 417.4 977.8 429.5 977.9 433.6 978.1 430.7 978.3 426.9 978.5 431.0 978.6 422.8 978.8 425.4 979.0 424.9 979.2 427.2 979.4 421.3 979.5 434.3 979.7 426.3 979.9 421.2 980.1 425.9 980.2 429.0 980.4 427.3 980.6 433.0 980.8 425.2 981.0 423.0 981.1 429.8 981.3 433.9 981.5 422.0 981.7 418.7 981.8 423.7 982.0 426.7 982.2 421.7 982.4 428.0 982.5 422.5 982.7 431.8 982.9 420.9 983.1 422.3 983.2 427.5 983.4 430.7 983.6 431.9 983.8 423.5 983.9 427.2 984.1 429.9 984.3 434.6 984.5 422.5 984.6 420.6 984.8 429.6 985.0 425.8 985.1 434.1 985.3 427.3 985.5 428.8 985.7 423.1 985.8 428.6 986.0 433.4 986.2 425.9 986.4 421.0 986.5 431.7 986.7 425.6 986.9 427.4 987.0 423.5 987.2 432.0 987.4 423.4 987.6 424.7 987.7 427.2 987.9 426.1 988.1 415.8 988.2 429.6 988.4 421.3 988.6 428.5 988.8 425.2 988.9 426.6 989.1 423.5 989.3 421.9 989.4 428.0 989.6 428.4 989.8 432.4 990.0 430.1 990.1 423.8 990.3 433.3 990.5 438.6 990.6 431.0 990.8 426.4 991.0 422.4 991.1 427.9 991.3 420.1 991.5 431.5 991.6 425.5 991.8 424.5 992.0 428.8 992.1 421.1 992.3 418.6 992.5 425.3 992.7 433.7 992.8 423.2 993.0 432.0 993.2 418.1 993.3 427.2 993.5 430.2 993.7 436.8 993.8 418.5 994.0 427.3 994.2 423.0 994.3 429.2 994.5 424.8 994.7 428.2 994.8 423.8 995.0 424.8 995.2 429.8 995.3 435.4 995.5 428.8 995.7 428.4 995.8 425.4 996.0 435.9 996.1 417.8 996.3 417.6 996.5 423.9 996.6 430.2 996.8 432.8 997.0 430.9 997.1 431.8 997.3 428.9 997.5 425.7 997.6 422.8 997.8 430.4 998.0 423.5 998.1 430.4 998.3 432.0 998.5 425.2 998.6 426.1 998.8 425.7 998.9 431.8 999.1 429.2 999.3 425.2 999.4 429.9 999.6 436.0 999.8 430.0 999.9 429.3 1000.1 426.8 1000.2 424.2 1000.4 428.8 1000.6 429.1 1000.7 427.4 1000.9 434.6 1001.1 427.8 1001.2 428.2 1001.4 429.9 1001.5 431.6 1001.7 420.5 1001.9 430.4 1002.0 435.1 1002.2 423.9 1002.3 431.1 1002.5 426.9 1002.7 424.6 1002.8 430.6 1003.0 428.9 1003.1 419.7 1003.3 426.7 1003.5 433.3 1003.6 426.8 1003.8 426.1 1003.9 427.9 1004.1 427.5 1004.3 433.0 1004.4 425.7 1004.6 424.2 1004.7 431.5 1004.9 434.0 1005.1 432.6 1005.2 433.2 1005.4 426.5 1005.5 422.8 1005.7 426.2 1005.9 429.2 1006.0 421.7 1006.2 427.9 1006.3 431.8 1006.5 426.1 1006.7 437.9 1006.8 432.4 1007.0 423.7 1007.1 424.0 1007.3 425.8 1007.4 431.9 1007.6 430.7 1007.8 426.1 1007.9 429.0 1008.1 431.2 1008.2 429.4 1008.4 419.6 1008.5 419.5 1008.7 415.4 1008.9 409.6 1009.0 415.9 1009.2 418.7 1009.3 422.2 1009.5 423.1 1009.6 428.5 1009.8 430.1 1009.9 430.9 1010.1 433.4 1010.3 424.5 1010.4 435.2 1010.6 438.7 1010.7 426.3 1010.9 427.1 1011.0 431.1 1011.2 433.7 1011.3 427.5 1011.5 425.3 1011.7 437.1 1011.8 426.5 1012.0 417.9 1012.1 430.7 1012.3 432.6 1012.4 435.6 1012.6 435.8 1012.7 439.4 1012.9 426.2 1013.0 424.5 1013.2 422.5 1013.3 435.6 1013.5 426.7 1013.7 421.5 1013.8 419.8 1014.0 429.0 1014.1 426.6 1014.3 429.7 1014.4 424.8 1014.6 425.3 1014.7 430.4 1014.9 427.5 1015.0 430.8 1015.2 427.8 1015.3 427.1 1015.5 429.8 1015.6 426.9 1015.8 429.0 1015.9 430.2 1016.1 426.0 1016.2 427.7 1016.4 428.6 1016.5 431.1 1016.7 429.2 1016.9 429.2 1017.0 430.1 1017.2 426.8 1017.3 429.7 1017.5 424.9 1017.6 420.1 1017.8 429.8 1017.9 419.4 1018.1 427.3 1018.2 434.8 1018.4 431.2 1018.5 423.4 1018.7 431.2 1018.8 429.0 1019.0 424.2 1019.1 427.5 1019.3 425.5 1019.4 426.5 1019.6 429.3 1019.7 420.9 1019.9 431.6 1020.0 436.9 1020.2 427.0 1020.3 423.3 1020.5 425.8 1020.6 433.2 1020.8 425.3 1020.9 429.7 1021.0 438.0 1021.2 424.1 1021.3 427.9 1021.5 424.7 1021.6 425.6 1021.8 427.8 1021.9 423.7 1022.1 429.3 1022.2 428.0 1022.4 432.6 1022.5 430.3 1022.7 428.8 1022.8 434.1 1023.0 426.0 1023.1 429.9 1023.3 423.7 1023.4 433.7 1023.6 423.2 1023.7 431.4 1023.9 423.2 1024.0 427.7 1024.1 421.4 1024.3 422.9 1024.4 421.9 1024.6 428.7 1024.7 429.1 1024.9 430.2 1025.0 428.4 1025.2 425.4 1025.3 429.7 1025.5 434.2 1025.6 424.5 1025.8 422.6 1025.9 429.1 1026.0 436.6 1026.2 425.8 1026.3 424.6 1026.5 421.0 1026.6 422.4 1026.8 421.3 1026.9 421.1 1027.1 431.5 1027.2 432.5 1027.3 426.5 1027.5 426.5 1027.6 430.2 1027.8 426.0 1027.9 426.4 1028.1 429.0 1028.2 425.6 1028.4 432.6 1028.5 438.9 1028.6 425.9 1028.8 427.3 1028.9 421.5 1029.1 423.5 1029.2 426.3 1029.4 428.0 1029.5 424.9 1029.6 419.7 1029.8 427.9 1029.9 423.1 1030.1 427.9 1030.2 424.7 1030.4 425.2 1030.5 425.4 1030.6 414.9 1030.8 432.2 1030.9 421.1 1031.1 427.7 1031.2 428.6 1031.4 422.9 1031.5 418.8 1031.6 428.7 1031.8 420.9 1031.9 425.3 1032.1 428.1 1032.2 423.3 1032.4 417.0 1032.5 422.2 1032.6 428.2 1032.8 421.5 1032.9 430.1 1033.1 417.8 1033.2 420.7 1033.3 416.7 1033.5 420.7 1033.6 433.2 1033.8 428.4 1033.9 424.1 1034.0 422.3 1034.2 431.2 1034.3 424.8 1034.5 420.3 1034.6 433.1 1034.7 418.7 1034.9 426.3 1035.0 428.5 1035.2 430.1 1035.3 435.2 1035.4 429.5 1035.6 421.7 1035.7 431.0 1035.9 426.7 1036.0 419.1 1036.1 419.8 1036.3 421.2 1036.4 414.5 1036.6 427.5 1036.7 428.2 1036.8 427.9 1037.0 421.3 1037.1 425.3 1037.3 431.6 1037.4 427.6 1037.5 425.0 1037.7 422.0 1037.8 425.6 1037.9 432.3 1038.1 426.1 1038.2 437.6 1038.4 438.3 1038.5 429.7 1038.6 417.9 1038.8 424.9 1038.9 432.7 1039.0 423.5 1039.2 422.9 1039.3 426.5 1039.5 439.7 1039.6 424.1 1039.7 416.6 1039.9 428.1 1040.0 428.7 1040.1 430.5 1040.3 427.1 1040.4 428.6 1040.6 424.5 1040.7 431.8 1040.8 426.8 1041.0 429.7 1041.1 423.2 1041.2 434.2 1041.4 428.4 1041.5 425.0 1041.6 427.4 1041.8 421.6 1041.9 424.2 1042.1 431.6 1042.2 430.5 1042.3 431.7 1042.5 431.0 1042.6 426.0 1042.7 427.9 1042.9 437.1 1043.0 426.8 1043.1 419.5 1043.3 427.2 1043.4 425.1 1043.5 426.6 1043.7 427.1 1043.8 421.6 1043.9 428.8 1044.1 425.5 1044.2 428.9 1044.3 422.1 1044.5 419.9 1044.6 421.4 1044.8 428.8 1044.9 410.4 1045.0 416.2 1045.2 401.5 1045.3 387.9 1045.4 377.2 1045.6 391.7 1045.7 406.9 1045.8 422.9 1046.0 419.6 1046.1 424.3 1046.2 421.6 1046.4 428.1 1046.5 423.8 1046.6 427.7 1046.8 430.8 1046.9 432.2 1047.0 425.0 1047.2 425.4 1047.3 436.5 1047.4 427.9 1047.6 431.8 1047.7 429.6 1047.8 422.9 1047.9 430.9 1048.1 431.1 1048.2 441.3 1048.3 421.9 1048.5 429.4 1048.6 435.7 1048.7 429.7 1048.9 421.1 1049.0 436.2 1049.1 433.9 1049.3 428.6 1049.4 427.9 1049.5 429.8 1049.7 434.7 1049.8 432.8 1049.9 430.3 1050.1 435.9 1050.2 439.9 1050.3 431.0 1050.4 443.0 1050.6 434.7 1050.7 438.0 1050.8 437.1 1051.0 437.7 1051.1 436.4 1051.2 422.8 1051.4 430.1 1051.5 440.3 1051.6 429.8 1051.8 436.3 1051.9 427.2 1052.0 432.5 1052.1 444.4 1052.3 437.3 1052.4 431.1 1052.5 432.4 1052.7 426.5 1052.8 438.4 1052.9 434.5 1053.1 439.8 1053.2 440.1 1053.3 434.1 1053.4 430.5 1053.6 429.1 1053.7 433.5 1053.8 435.8 1054.0 443.2 1054.1 430.4 1054.2 438.1 1054.3 429.9 1054.5 432.4 1054.6 439.8 1054.7 438.4 1054.9 432.6 1055.0 432.0 1055.1 441.6 1055.2 434.5 1055.4 433.8 1055.5 429.7 1055.6 449.2 1055.8 445.6 1055.9 438.4 1056.0 447.7 1056.1 438.3 1056.3 433.8 1056.4 438.6 1056.5 443.5 1056.6 429.7 1056.8 442.5 1056.9 442.3 1057.0 444.0 1057.2 438.5 1057.3 442.0 1057.4 426.5 1057.5 435.6 1057.7 441.6 1057.8 439.0 1057.9 437.4 1058.0 429.2 1058.2 435.1 1058.3 426.6 1058.4 434.7 1058.6 437.8 1058.7 433.2 1058.8 438.6 1058.9 436.0 1059.1 440.8 1059.2 434.1 1059.3 427.3 1059.4 429.2 1059.6 431.9 1059.7 436.0 1059.8 436.5 1059.9 432.0 1060.1 436.6 1060.2 432.5 1060.3 439.5 1060.4 428.9 1060.6 442.4 1060.7 437.7 1060.8 434.0 1060.9 430.4 1061.1 439.2 1061.2 433.0 1061.3 439.8 1061.4 446.2 1061.6 437.3 1061.7 437.7 1061.8 439.4 1061.9 433.6 1062.1 447.0 1062.2 435.5 1062.3 440.4 1062.4 438.6 1062.6 433.7 1062.7 444.2 1062.8 438.9 1062.9 433.5 1063.1 433.5 1063.2 426.7 1063.3 431.4 1063.4 441.6 1063.6 441.7 1063.7 432.2 1063.8 440.6 1063.9 442.5 1064.1 441.4 1064.2 444.0 1064.3 427.1 1064.4 438.4 1064.5 432.2 1064.7 440.9 1064.8 433.4 1064.9 437.9 1065.0 442.0 1065.2 428.9 1065.3 433.8 1065.4 433.6 1065.5 437.1 1065.7 428.9 1065.8 441.4 1065.9 447.4 1066.0 435.7 1066.1 439.9 1066.3 423.0 1066.4 430.7 1066.5 440.5 1066.6 438.6 1066.8 440.5 1066.9 444.0 1067.0 437.5 1067.1 435.6 1067.2 434.4 1067.4 437.5 1067.5 425.7 1067.6 444.7 1067.7 425.3 1067.8 428.4 1068.0 437.2 1068.1 441.8 1068.2 439.7 1068.3 444.8 1068.5 434.5 1068.6 433.4 1068.7 439.9 1068.8 430.9 1068.9 438.1 1069.1 439.8 1069.2 438.6 1069.3 426.0 1069.4 435.8 1069.5 425.9 1069.7 441.8 1069.8 434.7 1069.9 442.6 1070.0 444.4 1070.1 429.8 1070.3 442.3 1070.4 439.5 1070.5 445.6 1070.6 430.4 1070.7 430.3 1070.9 433.1 1071.0 427.2 1071.1 438.2 1071.2 433.5 1071.3 438.7 1071.5 439.5 1071.6 442.4 1071.7 430.2 1071.8 441.8 1071.9 441.8 1072.1 432.1 1072.2 434.2 1072.3 429.5 1072.4 444.8 1072.5 445.5 1072.7 433.0 1072.8 437.3 1072.9 440.2 1073.0 442.0 1073.1 437.6 1073.3 447.6 1073.4 432.6 1073.5 443.1 1073.6 438.7 1073.7 439.8 1073.8 433.9 1074.0 428.1 1074.1 435.2 1074.2 441.1 1074.3 433.4 1074.4 428.4 1074.6 437.4 1074.7 438.3 1074.8 432.5 1074.9 437.8 1075.0 441.0 1075.1 439.8 1075.3 444.1 1075.4 445.7 1075.5 438.5 1075.6 433.8 1075.7 428.2 1075.8 444.8 1076.0 440.9 1076.1 444.9 1076.2 433.8 1076.3 439.6 1076.4 433.9 1076.6 433.4 1076.7 430.0 1076.8 437.4 1076.9 441.7 1077.0 443.5 1077.1 440.2 1077.3 437.1 1077.4 450.9 1077.5 448.1 1077.6 444.9 1077.7 439.7 1077.8 446.4 1078.0 434.2 1078.1 431.1 1078.2 442.6 1078.3 439.8 1078.4 445.1 1078.5 434.0 1078.6 440.5 1078.8 432.5 1078.9 436.7 1079.0 441.6 1079.1 438.4 1079.2 433.1 1079.3 430.0 1079.5 436.4 1079.6 433.2 1079.7 430.1 1079.8 439.3 1079.9 433.3 1080.0 446.5 1080.2 451.3 1080.3 445.5 1080.4 454.7 1080.5 431.4 1080.6 428.4 1080.7 437.9 1080.8 428.1 1081.0 439.6 1081.1 444.1 1081.2 443.5 1081.3 444.7 1081.4 437.5 1081.5 438.4 1081.6 440.3 1081.8 438.4 1081.9 444.4 1082.0 436.3 1082.1 438.5 1082.2 434.6 1082.3 444.6 1082.4 439.5 1082.6 439.6 1082.7 435.8 1082.8 428.0 1082.9 436.0 1083.0 425.6 1083.1 438.3 1083.2 431.3 1083.4 446.4 1083.5 434.9 1083.6 438.3 1083.7 435.7 1083.8 431.8 1083.9 429.4 1084.0 423.5 1084.1 434.7 1084.3 426.4 1084.4 445.3 1084.5 430.8 1084.6 434.8 1084.7 438.2 1084.8 437.4 1084.9 445.2 1085.1 437.8 1085.2 435.3 1085.3 437.5 1085.4 447.1 1085.5 442.6 1085.6 426.7 1085.7 436.9 1085.8 432.7 1086.0 438.0 1086.1 441.5 1086.2 437.9 1086.3 441.2 1086.4 447.3 1086.5 427.8 1086.6 437.4 1086.7 437.9 1086.9 440.1 1087.0 438.1 1087.1 442.7 1087.2 437.4 1087.3 439.9 1087.4 428.8 1087.5 438.4 1087.6 430.6 1087.7 440.5 1087.9 446.9 1088.0 436.9 1088.1 439.5 1088.2 441.2 1088.3 444.6 1088.4 441.3 1088.5 443.7 1088.6 434.2 1088.7 436.6 1088.9 429.2 1089.0 448.7 1089.1 430.6 1089.2 441.7 1089.3 437.7 1089.4 437.4 1089.5 430.6 1089.6 436.5 1089.7 437.1 1089.9 438.7 1090.0 434.8 1090.1 437.8 1090.2 431.5 1090.3 442.7 1090.4 433.1 1090.5 449.6 1090.6 434.7 1090.7 433.0 1090.8 437.2 1091.0 435.6 1091.1 441.7 1091.2 442.3 1091.3 433.0 1091.4 432.8 1091.5 432.4 1091.6 438.4 1091.7 440.9 1091.8 439.3 1091.9 435.3 1092.1 436.1 1092.2 439.2 1092.3 442.1 1092.4 435.8 1092.5 441.7 1092.6 434.4 1092.7 437.0 1092.8 441.5 1092.9 431.9 1093.0 427.8 1093.1 430.7 1093.3 435.4 1093.4 431.1 1093.5 435.4 1093.6 442.6 1093.7 434.4 1093.8 442.4 1093.9 440.2 1094.0 431.0 1094.1 440.6 1094.2 440.1 1094.3 440.7 1094.5 437.1 1094.6 437.4 1094.7 433.5 1094.8 432.0 1094.9 435.9 1095.0 439.4 1095.1 433.4 1095.2 443.7 1095.3 434.1 1095.4 437.7 1095.5 430.0 1095.6 443.4 1095.7 439.6 1095.9 442.3 1096.0 430.8 1096.1 443.0 1096.2 438.6 1096.3 433.6 1096.4 434.6 1096.5 429.6 1096.6 435.7 1096.7 440.5 1096.8 432.6 1096.9 438.2 1097.0 431.1 1097.1 424.5 1097.3 435.7 1097.4 443.1 1097.5 441.9 1097.6 433.5 1097.7 442.1 1097.8 441.1 1097.9 438.1 1098.0 434.8 1098.1 440.8 1098.2 436.0 1098.3 434.6 1098.4 441.0 1098.5 433.3 1098.6 439.3 1098.7 442.9 1098.9 433.3 1099.0 437.1 1099.1 438.7 1099.2 428.6 1099.3 434.1 1099.4 433.9 1099.5 433.9 1099.6 432.5 1099.7 441.8 1099.8 432.3 1099.9 435.8 1100.0 438.8 1100.1 443.1 1100.2 429.4 1100.3 430.7 1100.4 431.8 1100.5 435.2 1100.7 440.7 1100.8 436.1 1100.9 437.4 1101.0 443.7 1101.1 435.4 1101.2 437.7 1101.3 446.1 1101.4 440.7 1101.5 434.4 1101.6 434.2 1101.7 442.5 1101.8 432.0 1101.9 433.3 1102.0 441.3 1102.1 444.0 1102.2 445.7 1102.3 433.0 1102.4 440.3 1102.5 425.1 1102.7 433.8 1102.8 450.6 1102.9 445.8 1103.0 441.8 1103.1 433.7 1103.2 432.1 1103.3 444.0 1103.4 437.8 1103.5 434.5 1103.6 442.4 1103.7 442.3 1103.8 435.3 1103.9 436.7 1104.0 450.4 1104.1 434.0 1104.2 444.4 1104.3 435.5 1104.4 434.7 1104.5 433.8 1104.6 438.7 1104.7 439.3 1104.8 443.4 1104.9 435.6 1105.0 441.8 1105.1 436.6 1105.3 435.8 1105.4 443.2 1105.5 442.3 1105.6 431.6 1105.7 440.8 1105.8 429.9 1105.9 434.1 1106.0 449.0 1106.1 447.4 1106.2 439.0 1106.3 443.5 1106.4 447.3 1106.5 450.0 1106.6 450.0 1106.7 435.9 1106.8 440.0 1106.9 441.0 1107.0 426.4 1107.1 436.0 1107.2 442.7 1107.3 439.2 1107.4 436.9 1107.5 433.6 1107.6 437.1 1107.7 440.4 1107.8 438.7 1107.9 447.3 1108.0 445.4 1108.1 432.9 1108.2 446.1 1108.3 440.7 1108.4 445.0 1108.5 436.5 1108.6 445.7 1108.7 436.1 1108.8 446.3 1108.9 440.0 1109.0 438.6 1109.2 432.2 1109.3 430.4 1109.4 445.0 1109.5 433.1 1109.6 432.7 1109.7 441.8 1109.8 439.5 1109.9 442.6 1110.0 431.3 1110.1 426.3 1110.2 433.2 1110.3 444.0 1110.4 437.7 1110.5 440.1 1110.6 440.1 1110.7 437.6 1110.8 437.1 1110.9 434.3 1111.0 435.9 1111.1 435.5 1111.2 429.3 1111.3 434.4 1111.4 429.8 1111.5 427.5 1111.6 424.8 1111.7 426.1 1111.8 418.1 1111.9 417.7 1112.0 404.2 1112.1 400.4 1112.2 384.5 1112.3 373.3 1112.4 354.3 1112.5 334.4 1112.6 322.2 1112.7 329.3 1112.8 348.9 1112.9 365.1 1113.0 383.3 1113.1 396.2 1113.2 406.7 1113.3 413.1 1113.4 413.1 1113.5 425.5 1113.6 420.8 1113.7 429.7 1113.8 430.5 1113.9 428.2 1114.0 427.8 1114.1 432.7 1114.2 442.8 1114.3 439.4 1114.4 433.1 1114.5 441.4 1114.6 447.4 1114.7 450.9 1114.8 428.1 1114.9 443.4 1115.0 444.4 1115.1 434.6 1115.2 428.2 1115.3 448.0 1115.4 437.4 1115.5 430.3 1115.6 433.9 1115.7 445.6 1115.8 455.0 1115.9 447.2 1116.0 435.8 1116.1 449.7 1116.2 429.5 1116.3 448.2 1116.4 447.8 1116.5 453.5 1116.6 448.4 1116.7 449.5 1116.8 443.0 1116.9 440.3 1117.0 442.7 1117.1 454.8 1117.2 439.0 1117.2 442.4 1117.3 439.9 1117.4 447.2 1117.5 446.0 1117.6 455.9 1117.7 456.8 1117.8 450.3 1117.9 448.8 1118.0 442.5 1118.1 434.1 1118.2 444.5 1118.3 443.7 1118.4 436.5 1118.5 444.9 1118.6 449.6 1118.7 438.2 1118.8 449.1 1118.9 446.3 1119.0 440.5 1119.1 444.5 1119.2 448.5 1119.3 442.8 1119.4 443.6 1119.5 451.9 1119.6 447.4 1119.7 447.3 1119.8 441.1 1119.9 448.4 1120.0 453.1 1120.1 438.7 1120.2 434.6 1120.3 439.6 1120.4 443.6 1120.5 438.5 1120.6 434.6 1120.7 454.0 1120.8 442.1 1120.9 439.8 1121.0 429.5 1121.1 449.8 1121.1 435.7 1121.2 452.1 1121.3 447.9 1121.4 445.9 1121.5 443.5 1121.6 450.1 1121.7 441.6 1121.8 446.9 1121.9 442.1 1122.0 443.1 1122.1 453.6 1122.2 451.1 1122.3 439.8 1122.4 440.3 1122.5 445.2 1122.6 444.3 1122.7 447.8 1122.8 443.1 1122.9 439.5 1123.0 449.6 1123.1 444.0 1123.2 448.9 1123.3 440.5 1123.4 453.3 1123.5 446.8 1123.6 446.7 1123.6 447.4 1123.7 437.2 1123.8 449.1 1123.9 442.8 1124.0 439.7 1124.1 447.5 1124.2 454.4 1124.3 442.0 1124.4 453.6 1124.5 434.2 1124.6 447.2 1124.7 442.6 1124.8 447.0 1124.9 456.7 1125.0 449.2 1125.1 438.2 1125.2 453.3 1125.3 440.4 1125.4 443.0 1125.5 441.3 1125.6 446.6 1125.6 445.4 1125.7 454.2 1125.8 447.8 1125.9 449.5 1126.0 445.3 1126.1 451.8 1126.2 440.9 1126.3 438.9 1126.4 450.7 1126.5 450.0 1126.6 446.5 1126.7 457.5 1126.8 441.9 1126.9 453.4 1127.0 454.0 1127.1 440.3 1127.2 449.2 1127.3 450.4 1127.3 445.9 1127.4 445.9 1127.5 446.3 1127.6 442.4 1127.7 439.9 1127.8 450.5 1127.9 447.8 1128.0 446.9 1128.1 449.3 1128.2 442.8 1128.3 443.6 1128.4 450.7 1128.5 446.8 1128.6 449.2 1128.7 452.1 1128.8 455.3 1128.8 442.6 1128.9 444.2 1129.0 440.1 1129.1 443.7 1129.2 449.4 1129.3 444.5 1129.4 457.4 1129.5 445.0 1129.6 438.6 1129.7 442.9 1129.8 457.0 1129.9 442.9 1130.0 446.8 1130.1 443.3 1130.2 442.0 1130.2 452.7 1130.3 441.7 1130.4 438.9 1130.5 443.8 1130.6 444.2 1130.7 449.4 1130.8 447.9 1130.9 453.1 1131.0 446.4 1131.1 449.4 1131.2 449.7 1131.3 452.2 1131.4 441.9 1131.4 446.0 1131.5 435.6 1131.6 443.9 1131.7 442.0 1131.8 443.6 1131.9 454.6 1132.0 452.2 1132.1 440.7 1132.2 455.7 1132.3 453.3 1132.4 448.3 1132.5 447.0 1132.6 446.8 1132.6 447.3 1132.7 450.4 1132.8 446.1 1132.9 451.9 1133.0 445.8 1133.1 444.1 1133.2 446.6 1133.3 448.7 1133.4 449.1 1133.5 447.0 1133.6 440.1 1133.7 440.8 1133.7 439.0 1133.8 445.6 1133.9 449.9 1134.0 446.9 1134.1 446.4 1134.2 444.3 1134.3 444.9 1134.4 443.2 1134.5 451.0 1134.6 440.3 1134.7 441.7 1134.8 447.6 1134.8 443.4 1134.9 447.5 1135.0 441.9 1135.1 444.9 1135.2 442.8 1135.3 434.8 1135.4 439.6 1135.5 437.8 1135.6 425.2 1135.7 418.5 1135.8 412.5 1135.8 409.8 1135.9 419.7 1136.0 434.2 1136.1 431.9 1136.2 444.7 1136.3 436.9 1136.4 441.7 1136.5 438.9 1136.6 448.3 1136.7 447.4 1136.8 436.9 1136.8 433.1 1136.9 455.6 1137.0 444.4 1137.1 438.1 1137.2 441.8 1137.3 444.0 1137.4 453.9 1137.5 448.6 1137.6 446.7 1137.7 442.0 1137.7 449.8 1137.8 438.1 1137.9 452.1 1138.0 451.4 1138.1 444.4 1138.2 439.4 1138.3 443.7 1138.4 446.2 1138.5 456.7 1138.6 455.2 1138.6 443.6 1138.7 443.0 1138.8 440.0 1138.9 448.7 1139.0 444.1 1139.1 450.3 1139.2 447.2 1139.3 444.1 1139.4 441.8 1139.4 438.8 1139.5 449.8 1139.6 440.2 1139.7 450.4 1139.8 438.5 1139.9 434.0 1140.0 446.9 1140.1 443.8 1140.2 451.5 1140.2 446.9 1140.3 446.5 1140.4 451.2 1140.5 443.6 1140.6 450.1 1140.7 459.3 1140.8 448.1 1140.9 442.4 1141.0 446.8 1141.0 443.0 1141.1 445.4 1141.2 455.4 1141.3 442.2 1141.4 441.0 1141.5 449.7 1141.6 445.1 1141.7 446.3 1141.8 444.1 1141.8 448.4 1141.9 454.5 1142.0 450.4 1142.1 445.2 1142.2 445.5 1142.3 442.8 1142.4 442.9 1142.5 452.0 1142.6 450.0 1142.6 449.7 1142.7 449.9 1142.8 444.3 1142.9 447.4 1143.0 450.0 1143.1 455.4 1143.2 448.7 1143.3 447.8 1143.3 443.6 1143.4 452.6 1143.5 446.3 1143.6 448.8 1143.7 449.5 1143.8 443.8 1143.9 449.0 1144.0 453.2 1144.0 443.3 1144.1 445.1 1144.2 443.7 1144.3 448.2 1144.4 457.9 1144.5 449.3 1144.6 453.8 1144.7 448.9 1144.7 445.7 1144.8 447.8 1144.9 448.9 1145.0 446.8 1145.1 447.5 1145.2 448.2 1145.3 444.8 1145.4 455.2 1145.4 449.9 1145.5 447.3 1145.6 445.1 1145.7 449.7 1145.8 444.1 1145.9 441.9 1146.0 446.1 1146.1 453.9 1146.1 446.9 1146.2 448.8 1146.3 443.3 1146.4 450.4 1146.5 445.3 1146.6 445.2 1146.7 444.2 1146.7 447.3 1146.8 442.9 1146.9 446.0 1147.0 447.0 1147.1 443.4 1147.2 438.6 1147.3 450.1 1147.4 442.0 1147.4 438.7 1147.5 448.0 1147.6 447.8 1147.7 453.3 1147.8 454.1 1147.9 437.5 1148.0 445.3 1148.0 449.4 1148.1 441.7 1148.2 453.6 1148.3 449.9 1148.4 445.1 1148.5 445.8 1148.6 449.9 1148.6 458.4 1148.7 457.5 1148.8 441.8 1148.9 451.4 1149.0 441.8 1149.1 448.1 1149.2 444.1 1149.2 447.5 1149.3 446.8 1149.4 450.6 1149.5 445.5 1149.6 452.3 1149.7 448.5 1149.8 444.9 1149.8 455.9 1149.9 450.8 1150.0 448.3 1150.1 449.7 1150.2 452.6 1150.3 448.8 1150.4 446.7 1150.4 448.8 1150.5 447.1 1150.6 447.2 1150.7 457.1 1150.8 453.3 1150.9 455.9 1150.9 447.5 1151.0 441.9 1151.1 448.2 1151.2 452.4 1151.3 447.8 1151.4 450.9 1151.5 445.8 1151.5 452.5 1151.6 448.3 1151.7 450.3 1151.8 453.4 1151.9 447.1 1152.0 445.7 1152.1 446.9 1152.1 453.1 1152.2 449.1 1152.3 455.4 1152.4 453.1 1152.5 455.7 1152.6 451.6 1152.6 456.2 1152.7 454.2 1152.8 442.4 1152.9 457.3 1153.0 454.9 1153.1 449.4 1153.1 445.9 1153.2 443.1 1153.3 451.9 1153.4 447.6 1153.5 446.3 1153.6 447.2 1153.7 444.4 1153.7 455.7 1153.8 447.8 1153.9 451.6 1154.0 452.4 1154.1 453.4 1154.2 451.1 1154.2 455.4 1154.3 449.3 1154.4 461.2 1154.5 445.2 1154.6 455.1 1154.7 461.5 1154.7 448.0 1154.8 458.3 1154.9 461.0 1155.0 450.3 1155.1 458.9 1155.2 450.0 1155.2 453.7 1155.3 451.5 1155.4 448.4 1155.5 447.9 1155.6 450.2 1155.7 446.3 1155.7 453.4 1155.8 453.3 1155.9 457.4 1156.0 454.5 1156.1 452.1 1156.2 451.5 1156.2 463.3 1156.3 446.3 1156.4 447.2 1156.5 462.4 1156.6 457.4 1156.7 453.7 1156.7 455.2 1156.8 457.1 1156.9 446.6 1157.0 451.5 1157.1 455.8 1157.2 455.5 1157.2 457.2 1157.3 453.4 1157.4 450.7 1157.5 449.4 1157.6 454.0 1157.7 450.8 1157.7 451.9 1157.8 454.1 1157.9 451.1 1158.0 438.9 1158.1 442.5 1158.1 431.6 1158.2 433.3 1158.3 444.1 1158.4 443.5 1158.5 443.9 1158.6 446.9 1158.6 453.8 1158.7 459.4 1158.8 457.5 1158.9 451.6 1159.0 448.0 1159.1 452.7 1159.1 457.9 1159.2 455.9 1159.3 448.1 1159.4 454.5 1159.5 456.8 1159.5 450.1 1159.6 458.2 1159.7 460.8 1159.8 458.5 1159.9 450.7 1160.0 453.3 1160.0 454.3 1160.1 453.1 1160.2 458.5 1160.3 455.1 1160.4 454.8 1160.4 456.3 1160.5 452.9 1160.6 448.9 1160.7 455.4 1160.8 453.4 1160.9 457.9 1160.9 456.0 1161.0 453.8 1161.1 459.8 1161.2 454.9 1161.3 449.2 1161.3 461.9 1161.4 460.1 1161.5 454.8 1161.6 447.9 1161.7 450.4 1161.7 459.2 1161.8 454.5 1161.9 453.2 1162.0 456.8 1162.1 452.1 1162.2 452.3 1162.2 459.9 1162.3 456.8 1162.4 457.7 1162.5 456.8 1162.6 458.7 1162.6 457.6 1162.7 450.2 1162.8 452.6 1162.9 460.3 1163.0 453.6 1163.0 459.8 1163.1 450.7 1163.2 445.6 1163.3 451.1 1163.4 447.9 1163.4 446.1 1163.5 444.6 1163.6 438.2 1163.7 445.6 1163.8 440.5 1163.8 434.4 1163.9 427.9 1164.0 427.7 1164.1 417.5 1164.2 407.4 1164.3 393.5 1164.3 381.7 1164.4 376.7 1164.5 382.5 1164.6 397.3 1164.7 411.4 1164.7 417.0 1164.8 427.0 1164.9 438.1 1165.0 434.4 1165.1 446.3 1165.1 440.9 1165.2 440.0 1165.3 445.8 1165.4 446.6 1165.5 453.9 1165.5 442.0 1165.6 447.5 1165.7 448.0 1165.8 447.8 1165.9 453.3 1165.9 450.7 1166.0 453.4 1166.1 452.5 1166.2 458.8 1166.3 451.1 1166.3 454.4 1166.4 458.3 1166.5 456.9 1166.6 454.8 1166.6 458.7 1166.7 457.0 1166.8 457.2 1166.9 455.6 1167.0 460.0 1167.0 460.5 1167.1 452.9 1167.2 458.3 1167.3 457.8 1167.4 459.1 1167.4 452.6 1167.5 450.4 1167.6 455.1 1167.7 461.3 1167.8 451.4 1167.8 460.9 1167.9 456.4 1168.0 457.2 1168.1 457.3 1168.2 454.8 1168.2 455.3 1168.3 459.5 1168.4 463.8 1168.5 457.4 1168.5 458.6 1168.6 452.6 1168.7 456.0 1168.8 461.7 1168.9 461.9 1168.9 455.3 1169.0 456.4 1169.1 454.6 1169.2 452.5 1169.3 459.1 1169.3 454.6 1169.4 463.9 1169.5 446.1 1169.6 447.8 1169.6 450.3 1169.7 456.6 1169.8 455.5 1169.9 452.5 1170.0 443.4 1170.0 457.1 1170.1 448.3 1170.2 463.1 1170.3 456.9 1170.4 452.7 1170.4 455.0 1170.5 464.1 1170.6 454.6 1170.7 450.7 1170.7 443.6 1170.8 455.4 1170.9 452.5 1171.0 461.9 1171.1 457.0 1171.1 461.6 1171.2 454.1 1171.3 452.1 1171.4 461.0 1171.4 455.5 1171.5 452.6 1171.6 455.8 1171.7 461.3 1171.8 453.1 1171.8 466.0 1171.9 458.8 1172.0 450.4 1172.1 450.9 1172.1 456.0 1172.2 454.6 1172.3 454.5 1172.4 455.7 1172.5 457.7 1172.5 455.1 1172.6 453.7 1172.7 447.1 1172.8 464.5 1172.8 457.0 1172.9 459.2 1173.0 457.3 1173.1 462.7 1173.2 456.6 1173.2 462.6 1173.3 453.7 1173.4 455.3 1173.5 459.1 1173.5 459.4 1173.6 462.4 1173.7 453.7 1173.8 458.8 1173.8 454.0 1173.9 449.6 1174.0 461.4 1174.1 456.2 1174.2 451.8 1174.2 452.9 1174.3 459.1 1174.4 456.6 1174.5 456.0 1174.5 459.8 1174.6 456.4 1174.7 447.9 1174.8 460.6 1174.8 454.3 1174.9 454.8 1175.0 445.0 1175.1 444.0 1175.2 456.8 1175.2 454.4 1175.3 456.6 1175.4 458.0 1175.5 460.9 1175.5 463.0 1175.6 462.5 1175.7 451.9 1175.8 452.9 1175.8 457.3 1175.9 463.5 1176.0 462.1 1176.1 454.3 1176.1 451.1 1176.2 458.2 1176.3 455.9 1176.4 460.1 1176.5 460.6 1176.5 458.4 1176.6 452.7 1176.7 451.1 1176.8 455.6 1176.8 459.2 1176.9 456.6 1177.0 460.3 1177.1 455.0 1177.1 462.1 1177.2 458.6 1177.3 455.5 1177.4 453.6 1177.4 456.4 1177.5 457.4 1177.6 464.5 1177.7 457.5 1177.7 460.2 1177.8 447.5 1177.9 461.7 1178.0 456.8 1178.0 452.8 1178.1 446.5 1178.2 453.2 1178.3 464.7 1178.4 461.0 1178.4 460.9 1178.5 454.9 1178.6 460.0 1178.7 460.0 1178.7 458.7 1178.8 452.9 1178.9 454.4 1179.0 455.8 1179.0 469.3 1179.1 448.0 1179.2 464.8 1179.3 463.7 1179.3 458.2 1179.4 461.0 1179.5 458.9 1179.6 459.8 1179.6 454.5 1179.7 448.2 1179.8 469.3 1179.9 465.3 1179.9 450.8 1180.0 462.5 1180.1 455.4 1180.2 459.5 1180.2 452.6 1180.3 452.5 1180.4 466.0 1180.5 455.4 1180.5 457.1 1180.6 460.8 1180.7 464.4 1180.8 455.4 1180.8 460.5 1180.9 461.2 1181.0 455.0 1181.1 455.2 1181.1 460.7 1181.2 457.3 1181.3 465.1 1181.4 449.7 1181.4 460.4 1181.5 457.3 1181.6 451.7 1181.7 457.6 1181.7 451.6 1181.8 456.7 1181.9 463.2 1182.0 455.1 1182.0 461.1 1182.1 459.7 1182.2 456.1 1182.2 457.2 1182.3 459.4 1182.4 460.0 1182.5 456.3 1182.5 457.9 1182.6 462.1 1182.7 454.1 1182.8 453.4 1182.8 460.2 1182.9 460.9 1183.0 448.4 1183.1 459.3 1183.1 465.2 1183.2 462.7 1183.3 457.4 1183.4 460.7 1183.4 451.7 1183.5 462.0 1183.6 460.5 1183.7 463.1 1183.7 458.5 1183.8 462.3 1183.9 457.3 1184.0 464.2 1184.0 461.4 1184.1 451.4 1184.2 452.0 1184.2 461.9 1184.3 463.9 1184.4 465.3 1184.5 457.3 1184.5 460.6 1184.6 458.3 1184.7 456.8 1184.8 458.7 1184.8 465.4 1184.9 457.9 1185.0 467.9 1185.1 454.2 1185.1 458.6 1185.2 462.4 1185.3 462.4 1185.4 460.8 1185.4 452.8 1185.5 459.0 1185.6 466.6 1185.6 463.3 1185.7 462.7 1185.8 462.3 1185.9 460.0 1185.9 460.3 1186.0 458.0 1186.1 466.6 1186.2 462.6 1186.2 462.4 1186.3 461.4 1186.4 459.6 1186.4 454.3 1186.5 460.7 1186.6 457.8 1186.7 458.4 1186.7 461.7 1186.8 466.7 1186.9 456.4 1187.0 461.0 1187.0 468.1 1187.1 455.6 1187.2 463.4 1187.3 459.2 1187.3 464.5 1187.4 468.2 1187.5 461.0 1187.5 465.6 1187.6 462.7 1187.7 469.8 1187.8 449.7 1187.8 457.5 1187.9 461.0 1188.0 462.0 1188.0 469.0 1188.1 466.6 1188.2 460.0 1188.3 455.3 1188.3 466.8 1188.4 462.9 1188.5 460.6 1188.6 465.6 1188.6 469.8 1188.7 463.4 1188.8 468.2 1188.8 453.9 1188.9 465.8 1189.0 472.4 1189.1 467.4 1189.1 459.3 1189.2 457.0 1189.3 463.7 1189.4 458.2 1189.4 459.7 1189.5 454.2 1189.6 457.6 1189.6 464.6 1189.7 458.6 1189.8 458.3 1189.9 456.0 1189.9 461.4 1190.0 463.6 1190.1 462.5 1190.1 450.0 1190.2 462.1 1190.3 457.7 1190.4 461.6 1190.4 457.0 1190.5 467.3 1190.6 470.8 1190.6 466.3 1190.7 470.2 1190.8 463.3 1190.9 460.9 1190.9 452.8 1191.0 459.3 1191.1 460.2 1191.1 469.5 1191.2 457.9 1191.3 462.7 1191.4 465.3 1191.4 462.6 1191.5 462.3 1191.6 467.3 1191.6 458.4 1191.7 462.6 1191.8 463.6 1191.9 470.0 1191.9 468.9 1192.0 465.2 1192.1 466.6 1192.1 452.7 1192.2 464.0 1192.3 460.1 1192.4 455.4 1192.4 465.7 1192.5 460.7 1192.6 459.4 1192.6 454.4 1192.7 463.4 1192.8 468.4 1192.9 463.4 1192.9 466.1 1193.0 467.4 1193.1 462.6 1193.1 460.9 1193.2 459.8 1193.3 461.3 1193.4 460.1 1193.4 463.1 1193.5 460.4 1193.6 468.0 1193.6 458.6 1193.7 470.5 1193.8 460.6 1193.8 460.6 1193.9 466.1 1194.0 459.4 1194.1 453.8 1194.1 466.9 1194.2 469.8 1194.3 453.6 1194.3 465.5 1194.4 460.3 1194.5 461.9 1194.6 470.6 1194.6 456.4 1194.7 460.5 1194.8 469.1 1194.8 464.2 1194.9 465.3 1195.0 459.9 1195.0 459.2 1195.1 459.4 1195.2 464.2 1195.3 461.0 1195.3 465.3 1195.4 476.1 1195.5 454.5 1195.5 464.5 1195.6 462.7 1195.7 458.0 1195.8 464.2 1195.8 458.9 1195.9 456.6 1196.0 463.3 1196.0 471.1 1196.1 462.2 1196.2 465.4 1196.2 460.0 1196.3 459.7 1196.4 456.1 1196.5 463.3 1196.5 465.7 1196.6 454.8 1196.7 453.9 1196.7 466.0 1196.8 460.0 1196.9 455.5 1196.9 466.7 1197.0 462.3 1197.1 461.4 1197.2 463.4 1197.2 460.2 1197.3 476.9 1197.4 452.8 1197.4 461.0 1197.5 466.5 1197.6 465.6 1197.6 457.7 1197.7 462.0 1197.8 463.3 1197.8 470.6 1197.9 472.0 1198.0 472.2 1198.1 464.9 1198.1 471.0 1198.2 467.0 1198.3 463.1 1198.3 462.7 1198.4 467.9 1198.5 466.1 1198.5 461.7 1198.6 459.8 1198.7 459.7 1198.7 471.6 1198.8 463.3 1198.9 465.2 1199.0 472.1 1199.0 472.5 1199.1 469.2 1199.2 467.0 1199.2 462.5 1199.3 465.1 1199.4 466.1 1199.4 468.4 1199.5 461.8 1199.6 469.0 1199.6 470.1 1199.7 466.8 1199.8 458.0 1199.9 455.6 1199.9 468.5 1200.0 456.2 1200.1 466.0 1200.1 478.2 1200.2 464.4 1200.3 458.2 1200.3 469.6 1200.4 462.9 1200.5 464.7 1200.5 456.4 1200.6 461.9 1200.7 472.1 1200.7 463.9 1200.8 461.6 1200.9 465.0 1201.0 466.2 1201.0 470.1 1201.1 468.7 1201.2 470.1 1201.2 458.7 1201.3 463.5 1201.4 455.4 1201.4 473.1 1201.5 462.2 1201.6 463.4 1201.6 474.6 1201.7 469.8 1201.8 463.8 1201.8 464.1 1201.9 463.3 1202.0 469.8 1202.0 479.0 1202.1 458.4 1202.2 473.0 1202.3 472.0 1202.3 463.2 1202.4 467.3 1202.5 467.1 1202.5 462.0 1202.6 462.5 1202.7 473.2 1202.7 468.2 1202.8 463.9 1202.9 461.4 1202.9 465.4 1203.0 466.2 1203.1 470.2 1203.1 474.0 1203.2 466.2 1203.3 461.4 1203.3 468.0 1203.4 466.9 1203.5 463.2 1203.5 469.8 1203.6 465.6 1203.7 467.8 1203.7 466.1 1203.8 468.4 1203.9 469.1 1204.0 461.0 1204.0 470.7 1204.1 466.2 1204.2 457.5 1204.2 464.4 1204.3 472.4 1204.4 473.4 1204.4 462.9 1204.5 467.5 1204.6 459.5 1204.6 468.3 1204.7 454.6 1204.8 457.3 1204.8 467.9 1204.9 468.2 1205.0 462.4 1205.0 468.0 1205.1 473.2 1205.2 464.6 1205.2 468.1 1205.3 461.0 1205.4 458.4 1205.4 473.1 1205.5 465.0 1205.6 461.0 1205.6 455.4 1205.7 466.0 1205.8 466.8 1205.8 468.4 1205.9 460.4 1206.0 464.5 1206.0 459.7 1206.1 454.4 1206.2 456.4 1206.2 452.4 1206.3 448.9 1206.4 446.9 1206.4 447.7 1206.5 440.0 1206.6 431.4 1206.6 424.6 1206.7 414.6 1206.8 403.8 1206.8 395.5 1206.9 392.7 1207.0 399.9 1207.0 406.7 1207.1 418.1 1207.2 425.5 1207.2 435.3 1207.3 440.8 1207.4 447.9 1207.4 445.6 1207.5 454.6 1207.6 449.5 1207.6 463.0 1207.7 457.3 1207.8 466.0 1207.8 468.5 1207.9 457.6 1208.0 472.6 1208.0 464.4 1208.1 454.4 1208.2 466.4 1208.2 466.6 1208.3 474.3 1208.4 457.2 1208.4 453.8 1208.5 466.4 1208.6 464.6 1208.6 462.5 1208.7 467.4 1208.8 476.4 1208.8 467.5 1208.9 472.5 1209.0 464.5 1209.0 461.6 1209.1 466.1 1209.2 477.7 1209.2 475.4 1209.3 472.7 1209.4 467.2 1209.4 470.8 1209.5 472.2 1209.6 461.5 1209.6 467.8 1209.7 479.1 1209.8 462.6 1209.8 470.7 1209.9 467.1 1210.0 467.9 1210.0 474.7 1210.1 465.7 1210.2 473.8 1210.2 469.8 1210.3 475.6 1210.4 465.7 1210.4 476.1 1210.5 470.1 1210.6 467.5 1210.6 466.6 1210.7 460.1 1210.8 475.3 1210.8 466.5 1210.9 476.6 1211.0 482.3 1211.0 462.3 1211.1 472.1 1211.2 467.0 1211.2 471.2 1211.3 473.0 1211.4 464.4 1211.4 476.0 1211.5 469.9 1211.5 479.2 1211.6 471.1 1211.7 472.0 1211.7 471.2 1211.8 484.2 1211.9 468.8 1211.9 459.2 1212.0 476.2 1212.1 471.8 1212.1 475.7 1212.2 477.4 1212.3 479.1 1212.3 472.7 1212.4 473.8 1212.5 477.2 1212.5 478.6 1212.6 464.4 1212.7 481.2 1212.7 465.8 1212.8 472.6 1212.9 477.5 1212.9 468.9 1213.0 468.9 1213.1 479.4 1213.1 479.2 1213.2 464.2 1213.2 471.3 1213.3 473.6 1213.4 479.1 1213.4 473.8 1213.5 476.5 1213.6 474.0 1213.6 475.9 1213.7 484.9 1213.8 475.2 1213.8 474.3 1213.9 464.0 1214.0 466.3 1214.0 464.5 1214.1 471.5 1214.2 470.0 1214.2 467.8 1214.3 475.3 1214.3 463.6 1214.4 472.7 1214.5 470.8 1214.5 467.4 1214.6 466.9 1214.7 469.1 1214.7 475.8 1214.8 476.6 1214.9 463.7 1214.9 472.0 1215.0 468.1 1215.1 476.8 1215.1 478.2 1215.2 476.4 1215.3 474.6 1215.3 475.4 1215.4 462.4 1215.4 474.2 1215.5 473.4 1215.6 470.9 1215.6 467.9 1215.7 465.3 1215.8 467.4 1215.8 468.5 1215.9 458.0 1216.0 471.3 1216.0 473.0 1216.1 480.4 1216.2 480.6 1216.2 474.5 1216.3 472.3 1216.3 472.1 1216.4 476.7 1216.5 477.6 1216.5 463.6 1216.6 476.2 1216.7 469.4 1216.7 472.0 1216.8 470.1 1216.9 474.0 1216.9 466.5 1217.0 472.2 1217.1 463.9 1217.1 477.5 1217.2 476.6 1217.2 470.0 1217.3 471.4 1217.4 468.6 1217.4 475.9 1217.5 475.1 1217.6 469.7 1217.6 471.1 1217.7 473.5 1217.8 468.0 1217.8 473.7 1217.9 474.9 1217.9 485.5 1218.0 474.1 1218.1 468.5 1218.1 479.1 1218.2 474.1 1218.3 470.0 1218.3 476.9 1218.4 469.3 1218.5 480.2 1218.5 476.6 1218.6 470.7 1218.6 472.3 1218.7 483.8 1218.8 470.9 1218.8 470.3 1218.9 476.4 1219.0 473.5 1219.0 471.5 1219.1 476.2 1219.2 461.4 1219.2 473.0 1219.3 480.4 1219.3 480.0 1219.4 468.3 1219.5 472.5 1219.5 476.9 1219.6 471.0 1219.7 475.3 1219.7 475.1 1219.8 462.6 1219.9 476.6 1219.9 472.7 1220.0 471.7 1220.0 470.7 1220.1 460.2 1220.2 471.8 1220.2 477.8 1220.3 479.9 1220.4 473.3 1220.4 471.4 1220.5 470.2 1220.5 479.7 1220.6 484.2 1220.7 472.6 1220.7 457.8 1220.8 473.9 1220.9 481.2 1220.9 464.8 1221.0 467.8 1221.1 463.6 1221.1 473.6 1221.2 485.6 1221.2 478.2 1221.3 463.2 1221.4 464.8 1221.4 475.4 1221.5 470.6 1221.6 462.5 1221.6 474.1 1221.7 467.3 1221.7 474.9 1221.8 475.4 1221.9 474.0 1221.9 466.1 1222.0 467.3 1222.1 471.1 1222.1 468.7 1222.2 478.1 1222.2 478.8 1222.3 473.2 1222.4 477.3 1222.4 480.8 1222.5 466.7 1222.6 469.8 1222.6 483.3 1222.7 471.1 1222.7 469.0 1222.8 472.4 1222.9 474.9 1222.9 463.5 1223.0 472.3 1223.1 477.8 1223.1 469.7 1223.2 469.3 1223.2 477.6 1223.3 467.4 1223.4 464.7 1223.4 471.0 1223.5 476.0 1223.6 470.2 1223.6 456.8 1223.7 467.5 1223.7 474.1 1223.8 481.7 1223.9 471.2 1223.9 486.4 1224.0 465.8 1224.1 468.5 1224.1 472.3 1224.2 476.4 1224.2 469.9 1224.3 475.6 1224.4 470.0 1224.4 474.6 1224.5 475.0 1224.6 472.6 1224.6 472.9 1224.7 470.2 1224.7 467.5 1224.8 486.7 1224.9 466.4 1224.9 479.7 1225.0 477.7 1225.0 471.7 1225.1 471.2 1225.2 467.1 1225.2 472.5 1225.3 464.7 1225.4 471.1 1225.4 482.6 1225.5 477.7 1225.5 462.8 1225.6 471.4 1225.7 468.1 1225.7 462.2 1225.8 476.2 1225.8 459.2 1225.9 471.7 1226.0 478.8 1226.0 476.6 1226.1 460.7 1226.2 465.3 1226.2 464.6 1226.3 463.9 1226.3 467.1 1226.4 463.6 1226.5 465.6 1226.5 451.9 1226.6 451.6 1226.6 448.2 1226.7 438.5 1226.8 424.3 1226.8 422.1 1226.9 418.2 1227.0 420.9 1227.0 425.3 1227.1 437.6 1227.1 443.2 1227.2 446.0 1227.3 455.8 1227.3 457.0 1227.4 457.7 1227.4 459.1 1227.5 458.6 1227.6 465.6 1227.6 463.4 1227.7 473.0 1227.8 467.5 1227.8 472.7 1227.9 464.5 1227.9 466.7 1228.0 470.1 1228.1 474.4 1228.1 475.7 1228.2 471.5 1228.2 472.4 1228.3 474.6 1228.4 476.1 1228.4 477.8 1228.5 461.9 1228.5 477.2 1228.6 471.7 1228.7 472.9 1228.7 467.9 1228.8 477.3 1228.8 480.0 1228.9 480.0 1229.0 469.3 1229.0 463.9 1229.1 481.1 1229.2 470.8 1229.2 463.1 1229.3 479.3 1229.3 460.8 1229.4 479.8 1229.5 470.7 1229.5 485.2 1229.6 474.3 1229.6 470.4 1229.7 474.8 1229.8 469.1 1229.8 470.7 1229.9 476.9 1229.9 474.7 1230.0 467.2 1230.1 472.1 1230.1 485.5 1230.2 466.7 1230.2 478.2 1230.3 490.0 1230.4 470.2 1230.4 479.7 1230.5 475.4 1230.5 469.5 1230.6 480.1 1230.7 479.5 1230.7 475.2 1230.8 470.9 1230.8 481.4 1230.9 479.1 1231.0 473.9 1231.0 470.4 1231.1 474.0 1231.2 472.9 1231.2 472.4 1231.3 483.4 1231.3 475.3 1231.4 484.6 1231.5 483.2 1231.5 482.1 1231.6 479.4 1231.6 475.9 1231.7 476.1 1231.8 488.5 1231.8 483.3 1231.9 474.6 1231.9 481.0 1232.0 473.7 1232.1 476.8 1232.1 471.1 1232.2 471.4 1232.2 470.8 1232.3 479.2 1232.4 484.0 1232.4 477.2 1232.5 479.5 1232.5 475.8 1232.6 474.3 1232.7 479.2 1232.7 470.6 1232.8 483.9 1232.8 482.3 1232.9 479.9 1233.0 477.8 1233.0 474.7 1233.1 487.4 1233.1 476.7 1233.2 474.6 1233.3 472.2 1233.3 473.9 1233.4 477.0 1233.4 476.2 1233.5 482.2 1233.5 475.8 1233.6 473.7 1233.7 481.6 1233.7 474.2 1233.8 489.2 1233.8 471.1 1233.9 477.9 1234.0 474.1 1234.0 480.8 1234.1 486.8 1234.1 476.3 1234.2 469.8 1234.3 480.9 1234.3 479.6 1234.4 483.0 1234.4 474.5 1234.5 475.6 1234.6 475.0 1234.6 476.3 1234.7 479.0 1234.7 487.6 1234.8 482.3 1234.9 477.6 1234.9 471.4 1235.0 488.2 1235.0 483.7 1235.1 488.1 1235.2 465.0 1235.2 493.9 1235.3 474.5 1235.3 473.8 1235.4 476.1 1235.4 477.2 1235.5 488.3 1235.6 467.2 1235.6 483.9 1235.7 488.1 1235.7 487.2 1235.8 484.6 1235.9 486.3 1235.9 478.6 1236.0 476.8 1236.0 477.2 1236.1 470.8 1236.2 486.6 1236.2 480.8 1236.3 483.2 1236.3 489.8 1236.4 489.2 1236.5 484.5 1236.5 476.6 1236.6 471.1 1236.6 486.5 1236.7 471.7 1236.7 479.8 1236.8 480.8 1236.9 477.2 1236.9 482.3 1237.0 486.9 1237.0 490.1 1237.1 479.1 1237.2 473.9 1237.2 480.5 1237.3 475.6 1237.3 476.1 1237.4 483.3 1237.5 488.3 1237.5 482.9 1237.6 483.6 1237.6 488.7 1237.7 485.8 1237.7 475.4 1237.8 478.8 1237.9 479.9 1237.9 490.7 1238.0 474.6 1238.0 481.2 1238.1 467.4 1238.2 479.3 1238.2 477.0 1238.3 476.5 1238.3 486.1 1238.4 477.3 1238.4 490.3 1238.5 483.4 1238.6 480.9 1238.6 476.3 1238.7 492.6 1238.7 483.4 1238.8 493.1 1238.9 497.2 1238.9 483.0 1239.0 487.4 1239.0 491.2 1239.1 483.4 1239.1 473.7 1239.2 489.2 1239.3 480.2 1239.3 476.5 1239.4 479.8 1239.4 491.6 1239.5 477.6 1239.6 480.1 1239.6 477.1 1239.7 490.6 1239.7 487.7 1239.8 493.2 1239.8 489.4 1239.9 486.9 1240.0 492.5 1240.0 490.1 1240.1 485.6 1240.1 488.3 1240.2 495.6 1240.3 488.1 1240.3 474.2 1240.4 471.4 1240.4 478.3 1240.5 490.1 1240.5 486.7 1240.6 488.2 1240.7 483.1 1240.7 482.6 1240.8 480.5 1240.8 482.3 1240.9 482.5 1240.9 481.9 1241.0 476.1 1241.1 474.4 1241.1 489.5 1241.2 482.8 1241.2 484.1 1241.3 478.1 1241.3 481.2 1241.4 483.4 1241.5 478.4 1241.5 475.1 1241.6 482.3 1241.6 481.9 1241.7 471.4 1241.8 472.2 1241.8 482.4 1241.9 470.7 1241.9 469.4 1242.0 468.1 1242.0 471.3 1242.1 467.5 1242.2 468.5 1242.2 457.7 1242.3 455.6 1242.3 452.7 1242.4 446.2 1242.4 436.4 1242.5 429.1 1242.6 418.9 1242.6 410.9 1242.7 404.9 1242.7 406.7 1242.8 411.0 1242.8 419.8 1242.9 425.0 1243.0 437.3 1243.0 447.6 1243.1 455.7 1243.1 454.2 1243.2 469.0 1243.2 474.6 1243.3 465.7 1243.4 476.2 1243.4 468.9 1243.5 476.9 1243.5 478.4 1243.6 482.7 1243.6 480.6 1243.7 478.5 1243.8 481.4 1243.8 485.0 1243.9 479.5 1243.9 486.5 1244.0 479.4 1244.0 485.0 1244.1 489.4 1244.2 480.8 1244.2 486.4 1244.3 469.8 1244.3 481.8 1244.4 497.2 1244.4 479.5 1244.5 479.1 1244.6 490.5 1244.6 483.2 1244.7 481.8 1244.7 482.8 1244.8 491.7 1244.8 483.9 1244.9 475.3 1245.0 493.5 1245.0 493.8 1245.1 490.3 1245.1 485.5 1245.2 479.5 1245.2 497.8 1245.3 473.8 1245.4 494.1 1245.4 493.1 1245.5 491.2"/>
</g>
<path d="M172.06 523.00V515.20M172.06 4.50V12.30M214.52 523.00V515.20M214.52 4.50V12.30M250.43 523.00V515.20M250.43 4.50V12.30M281.53 523.00V515.20M281.53 4.50V12.30M308.96 523.00V515.20M308.96 4.50V12.30M333.50 523.00V507.50M333.50 4.50V20.00M494.94 523.00V515.20M494.94 4.50V12.30M589.38 523.00V515.20M589.38 4.50V12.30M656.38 523.00V515.20M656.38 4.50V12.30M708.36 523.00V515.20M708.36 4.50V12.30M750.82 523.00V515.20M750.82 4.50V12.30M786.73 523.00V515.20M786.73 4.50V12.30M817.83 523.00V515.20M817.83 4.50V12.30M845.26 523.00V515.20M845.26 4.50V12.30M869.80 523.00V507.50M869.80 4.50V20.00M1031.24 523.00V515.20M1031.24 4.50V12.30M1125.68 523.00V515.20M1125.68 4.50V12.30M1192.68 523.00V515.20M1192.68 4.50V12.30M1244.66 523.00V515.20M1244.66 4.50V12.30M1287.12 523.00V515.20M1287.12 4.50V12.30M167.00 522.28H183.30M1295.70 522.28H1279.40M167.00 489.30H175.10M1295.70 489.30H1287.60M167.00 470.00H175.10M1295.70 470.00H1287.60M167.00 456.31H175.10M1295.70 456.31H1287.60M167.00 445.69H175.10M1295.70 445.69H1287.60M167.00 437.02H175.10M1295.70 437.02H1287.60M167.00 429.68H175.10M1295.70 429.68H1287.60M167.00 423.33H175.10M1295.70 423.33H1287.60M167.00 417.72H175.10M1295.70 417.72H1287.60M167.00 412.71H183.30M1295.70 412.71H1279.40M167.00 379.73H175.10M1295.70 379.73H1287.60M167.00 360.43H175.10M1295.70 360.43H1287.60M167.00 346.74H175.10M1295.70 346.74H1287.60M167.00 336.12H175.10M1295.70 336.12H1287.60M167.00 327.45H175.10M1295.70 327.45H1287.60M167.00 320.11H175.10M1295.70 320.11H1287.60M167.00 313.76H175.10M1295.70 313.76H1287.60M167.00 308.15H175.10M1295.70 308.15H1287.60M167.00 303.14H183.30M1295.70 303.14H1279.40M167.00 270.16H175.10M1295.70 270.16H1287.60M167.00 250.86H175.10M1295.70 250.86H1287.60M167.00 237.17H175.10M1295.70 237.17H1287.60M167.00 226.55H175.10M1295.70 226.55H1287.60M167.00 217.88H175.10M1295.70 217.88H1287.60M167.00 210.54H175.10M1295.70 210.54H1287.60M167.00 204.19H175.10M1295.70 204.19H1287.60M167.00 198.58H175.10M1295.70 198.58H1287.60M167.00 193.57H183.30M1295.70 193.57H1279.40M167.00 160.59H175.10M1295.70 160.59H1287.60M167.00 141.29H175.10M1295.70 141.29H1287.60M167.00 127.60H175.10M1295.70 127.60H1287.60M167.00 116.98H175.10M1295.70 116.98H1287.60M167.00 108.31H175.10M1295.70 108.31H1287.60M167.00 100.97H175.10M1295.70 100.97H1287.60M167.00 94.62H175.10M1295.70 94.62H1287.60M167.00 89.01H175.10M1295.70 89.01H1287.60M167.00 84.00H183.30M1295.70 84.00H1279.40M167.00 51.02H175.10M1295.70 51.02H1287.60M167.00 31.72H175.10M1295.70 31.72H1287.60M167.00 18.03H175.10M1295.70 18.03H1287.60M167.00 7.41H175.10M1295.70 7.41H1287.60" stroke="#000" stroke-width="2.3" fill="none"/>
<rect x="167.0" y="4.5" width="1128.7" height="518.5" fill="none" stroke="#000" stroke-width="2.4"/>
<text x="332.9" y="569.0" text-anchor="middle" font-size="37.2">10<tspan font-size="25.8" dx="0.4" dy="-13.65">2</tspan></text><text x="869.2" y="569.0" text-anchor="middle" font-size="37.2">10<tspan font-size="25.8" dx="0.4" dy="-13.65">3</tspan></text><text x="148.2" y="98.2" text-anchor="end" font-size="37.2">10<tspan font-size="25.8" dx="0.4" dy="-13.65">2</tspan></text><text x="148.2" y="207.4" text-anchor="end" font-size="37.2">10<tspan font-size="25.8" dx="0.4" dy="-13.65">1</tspan></text><text x="148.2" y="316.9" text-anchor="end" font-size="37.2">10<tspan font-size="25.8" dx="0.4" dy="-13.65">0</tspan></text><text x="147.2" y="426.5" text-anchor="end" font-size="37.2">10<tspan font-size="25.8" dx="-0.8" dy="-13.65">−1</tspan></text><text x="147.2" y="536.1" text-anchor="end" font-size="37.2">10<tspan font-size="25.8" dx="-0.8" dy="-13.65">−2</tspan></text>
<text x="731.5" y="626.1" text-anchor="middle" font-size="36.8">Frequency (Hz)</text>
<text transform="translate(33.9 263.5) rotate(-90)" x="0" y="0" text-anchor="middle" font-size="36.65">PSD (arbitrary units)</text>
<rect x="990" y="23" width="287.3" height="118.2" rx="7.2" ry="7.2" fill="#fff" fill-opacity="0.8" stroke="#d6d6d6" stroke-width="3.8"/>
<path d="M1003.5 52.4H1078.0" stroke="#1d5aa6" stroke-width="5.4" stroke-linecap="square"/>
<path d="M1003.5 106.4H1078.0" stroke="#36a844" stroke-width="5.4" stroke-linecap="square"/>
<text x="1106.5" y="65.7" font-size="37">Events</text>
<text x="1106.5" y="119.6" font-size="37">Baseline</text>
</svg>
</body></html>
